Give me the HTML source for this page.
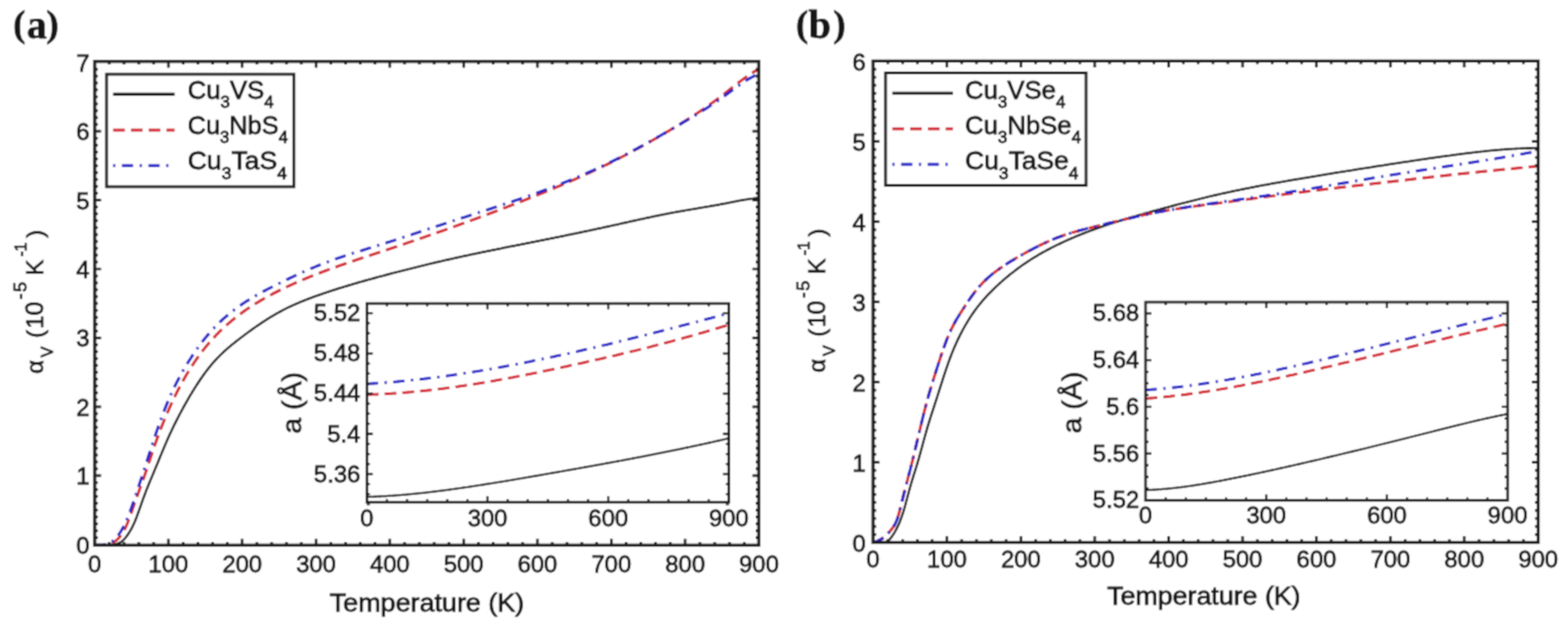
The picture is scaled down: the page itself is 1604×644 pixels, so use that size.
<!DOCTYPE html>
<html><head><meta charset="utf-8"><title>Volumetric thermal expansion coefficient vs temperature</title>
<style>
html,body{margin:0;padding:0;background:#fff;}
body{width:1604px;height:644px;overflow:hidden;}
svg{display:block;}
text{font-family:'Liberation Sans', Arial, Helvetica, sans-serif;fill:#161616;stroke:#161616;stroke-width:0.8px;}
</style></head>
<body>
<svg width="1604" height="644" viewBox="0 0 1604 644">
<defs><filter id="bl" x="0" y="0" width="1604" height="644" filterUnits="userSpaceOnUse"><feConvolveMatrix order="3" kernelMatrix="0.13 0.36 0.13 0.36 1.0 0.36 0.13 0.36 0.13" divisor="2.960" edgeMode="duplicate"/></filter><clipPath id="cA"><rect x="96.9" y="62.8" width="679.30" height="494.50"/></clipPath><clipPath id="cB"><rect x="893.1" y="62.4" width="680.40" height="492.10"/></clipPath><clipPath id="cIA"><rect x="375.3" y="310.2" width="370.30" height="203.10"/></clipPath><clipPath id="cIB"><rect x="1171.9" y="308.9" width="370.30" height="202.50"/></clipPath></defs>
<g filter="url(#bl)">
<rect width="1604" height="644" fill="#fff"/>
<path d="M96.9,557.3 L97.9,557.2 L98.9,557.2 L99.9,557.1 L100.9,557.1 L101.9,557.1 L102.9,557.1 L103.9,557.2 L104.9,557.2 L105.9,557.2 L106.9,557.2 L107.9,557.2 L108.9,557.2 L109.9,557.1 L110.9,557.1 L111.9,557.0 L112.9,556.9 L113.9,556.8 L114.9,556.7 L115.9,556.6 L116.9,556.5 L117.9,556.3 L118.9,556.1 L119.9,555.8 L120.9,555.5 L121.9,555.1 L122.9,554.6 L123.9,553.9 L124.9,553.2 L125.9,552.3 L126.9,551.3 L127.9,550.2 L128.9,549.0 L129.9,547.7 L130.9,546.3 L131.9,544.7 L132.9,543.1 L133.9,541.4 L134.9,539.6 L135.9,537.6 L136.9,535.4 L137.9,533.2 L138.9,530.7 L139.9,528.2 L140.9,525.5 L141.9,522.7 L142.9,519.9 L143.9,517.1 L144.9,514.2 L145.9,511.4 L146.9,508.7 L147.9,506.0 L148.9,503.3 L149.9,500.7 L150.9,498.2 L151.9,495.7 L152.9,493.3 L153.9,490.9 L154.9,488.5 L155.9,486.1 L156.9,483.7 L157.9,481.3 L158.9,478.9 L159.9,476.5 L160.9,474.1 L161.9,471.7 L162.9,469.3 L163.9,466.8 L164.9,464.4 L165.9,462.0 L166.9,459.6 L167.9,457.3 L168.9,454.9 L169.9,452.6 L170.9,450.3 L171.9,448.0 L172.9,445.8 L173.9,443.6 L174.9,441.4 L175.9,439.3 L176.9,437.2 L177.9,435.1 L178.9,433.1 L179.9,431.1 L180.9,429.1 L181.9,427.2 L182.9,425.2 L183.9,423.3 L184.9,421.5 L185.9,419.6 L186.9,417.8 L187.9,415.9 L188.9,414.1 L189.9,412.4 L190.9,410.6 L191.9,408.9 L192.9,407.1 L193.9,405.4 L194.9,403.7 L195.9,402.1 L196.9,400.4 L197.9,398.8 L198.9,397.2 L199.9,395.6 L200.9,394.0 L201.9,392.5 L202.9,391.0 L203.9,389.5 L204.9,388.0 L205.9,386.5 L206.9,385.1 L207.9,383.7 L208.9,382.3 L209.9,380.9 L210.9,379.6 L211.9,378.3 L212.9,377.0 L213.9,375.7 L214.9,374.5 L215.9,373.3 L216.9,372.1 L217.9,370.9 L218.9,369.8 L219.9,368.7 L220.9,367.6 L221.9,366.5 L222.9,365.5 L223.9,364.5 L224.9,363.5 L225.9,362.5 L226.9,361.5 L227.9,360.6 L228.9,359.6 L229.9,358.7 L230.9,357.8 L231.9,356.9 L232.9,356.1 L233.9,355.2 L234.9,354.4 L235.9,353.5 L236.9,352.7 L237.9,351.9 L238.9,351.1 L239.9,350.3 L240.9,349.5 L241.9,348.7 L242.9,347.9 L243.9,347.2 L244.9,346.4 L245.9,345.6 L246.9,344.9 L247.9,344.1 L248.9,343.4 L249.9,342.6 L250.9,341.9 L251.9,341.1 L252.9,340.4 L253.9,339.6 L254.9,338.9 L255.9,338.2 L256.9,337.5 L257.9,336.7 L258.9,336.0 L259.9,335.3 L260.9,334.6 L261.9,333.9 L262.9,333.2 L263.9,332.5 L264.9,331.9 L265.9,331.2 L266.9,330.5 L267.9,329.8 L268.9,329.2 L269.9,328.5 L270.9,327.9 L271.9,327.2 L272.9,326.6 L273.9,326.0 L274.9,325.3 L275.9,324.7 L276.9,324.1 L277.9,323.5 L278.9,322.9 L279.9,322.3 L280.9,321.7 L281.9,321.2 L282.9,320.6 L283.9,320.0 L284.9,319.5 L285.9,318.9 L286.9,318.4 L287.9,317.9 L288.9,317.3 L289.9,316.8 L290.9,316.3 L291.9,315.8 L292.9,315.3 L293.9,314.8 L294.9,314.3 L295.9,313.8 L296.9,313.3 L297.9,312.9 L298.9,312.4 L299.9,312.0 L300.9,311.5 L301.9,311.1 L302.9,310.6 L303.9,310.2 L304.9,309.8 L305.9,309.3 L306.9,308.9 L307.9,308.5 L308.9,308.1 L309.9,307.7 L310.9,307.3 L311.9,306.9 L312.9,306.5 L313.9,306.1 L314.9,305.7 L315.9,305.3 L316.9,304.9 L317.9,304.6 L318.9,304.2 L319.9,303.8 L320.9,303.4 L321.9,303.1 L322.9,302.7 L323.9,302.4 L324.9,302.0 L325.9,301.7 L326.9,301.3 L327.9,301.0 L328.9,300.6 L329.9,300.3 L330.9,299.9 L331.9,299.6 L332.9,299.3 L333.9,298.9 L334.9,298.6 L335.9,298.3 L336.9,297.9 L337.9,297.6 L338.9,297.3 L339.9,296.9 L340.9,296.6 L341.9,296.3 L342.9,296.0 L343.9,295.7 L344.9,295.3 L345.9,295.0 L346.9,294.7 L347.9,294.4 L348.9,294.1 L349.9,293.8 L350.9,293.5 L351.9,293.2 L352.9,292.9 L353.9,292.6 L354.9,292.3 L355.9,292.0 L356.9,291.7 L357.9,291.4 L358.9,291.1 L359.9,290.8 L360.9,290.5 L361.9,290.2 L362.9,289.9 L363.9,289.6 L364.9,289.3 L365.9,289.0 L366.9,288.7 L367.9,288.4 L368.9,288.2 L369.9,287.9 L370.9,287.6 L371.9,287.3 L372.9,287.0 L373.9,286.7 L374.9,286.5 L375.9,286.2 L376.9,285.9 L377.9,285.6 L378.9,285.4 L379.9,285.1 L380.9,284.8 L381.9,284.5 L382.9,284.3 L383.9,284.0 L384.9,283.7 L385.9,283.4 L386.9,283.2 L387.9,282.9 L388.9,282.6 L389.9,282.4 L390.9,282.1 L391.9,281.8 L392.9,281.6 L393.9,281.3 L394.9,281.0 L395.9,280.8 L396.9,280.5 L397.9,280.2 L398.9,280.0 L399.9,279.7 L400.9,279.4 L401.9,279.2 L402.9,278.9 L403.9,278.7 L404.9,278.4 L405.9,278.1 L406.9,277.9 L407.9,277.6 L408.9,277.4 L409.9,277.1 L410.9,276.9 L411.9,276.6 L412.9,276.3 L413.9,276.1 L414.9,275.8 L415.9,275.6 L416.9,275.3 L417.9,275.1 L418.9,274.8 L419.9,274.6 L420.9,274.3 L421.9,274.1 L422.9,273.8 L423.9,273.6 L424.9,273.3 L425.9,273.1 L426.9,272.8 L427.9,272.6 L428.9,272.3 L429.9,272.1 L430.9,271.8 L431.9,271.6 L432.9,271.4 L433.9,271.1 L434.9,270.9 L435.9,270.6 L436.9,270.4 L437.9,270.1 L438.9,269.9 L439.9,269.7 L440.9,269.4 L441.9,269.2 L442.9,269.0 L443.9,268.7 L444.9,268.5 L445.9,268.2 L446.9,268.0 L447.9,267.8 L448.9,267.5 L449.9,267.3 L450.9,267.1 L451.9,266.8 L452.9,266.6 L453.9,266.4 L454.9,266.2 L455.9,265.9 L456.9,265.7 L457.9,265.5 L458.9,265.3 L459.9,265.0 L460.9,264.8 L461.9,264.6 L462.9,264.4 L463.9,264.1 L464.9,263.9 L465.9,263.7 L466.9,263.5 L467.9,263.2 L468.9,263.0 L469.9,262.8 L470.9,262.6 L471.9,262.4 L472.9,262.2 L473.9,261.9 L474.9,261.7 L475.9,261.5 L476.9,261.3 L477.9,261.1 L478.9,260.9 L479.9,260.7 L480.9,260.4 L481.9,260.2 L482.9,260.0 L483.9,259.8 L484.9,259.6 L485.9,259.4 L486.9,259.2 L487.9,259.0 L488.9,258.8 L489.9,258.5 L490.9,258.3 L491.9,258.1 L492.9,257.9 L493.9,257.7 L494.9,257.5 L495.9,257.3 L496.9,257.1 L497.9,256.9 L498.9,256.7 L499.9,256.5 L500.9,256.3 L501.9,256.1 L502.9,255.9 L503.9,255.7 L504.9,255.5 L505.9,255.3 L506.9,255.1 L507.9,254.9 L508.9,254.7 L509.9,254.5 L510.9,254.3 L511.9,254.1 L512.9,253.9 L513.9,253.6 L514.9,253.4 L515.9,253.2 L516.9,253.0 L517.9,252.8 L518.9,252.6 L519.9,252.4 L520.9,252.2 L521.9,252.0 L522.9,251.9 L523.9,251.7 L524.9,251.5 L525.9,251.3 L526.9,251.1 L527.9,250.9 L528.9,250.7 L529.9,250.5 L530.9,250.3 L531.9,250.1 L532.9,249.9 L533.9,249.7 L534.9,249.5 L535.9,249.3 L536.9,249.1 L537.9,248.9 L538.9,248.7 L539.9,248.5 L540.9,248.3 L541.9,248.1 L542.9,247.9 L543.9,247.7 L544.9,247.5 L545.9,247.3 L546.9,247.1 L547.9,246.9 L548.9,246.7 L549.9,246.5 L550.9,246.3 L551.9,246.1 L552.9,245.9 L553.9,245.7 L554.9,245.5 L555.9,245.3 L556.9,245.1 L557.9,244.9 L558.9,244.7 L559.9,244.5 L560.9,244.3 L561.9,244.1 L562.9,243.9 L563.9,243.7 L564.9,243.5 L565.9,243.3 L566.9,243.1 L567.9,242.9 L568.9,242.7 L569.9,242.5 L570.9,242.3 L571.9,242.1 L572.9,241.9 L573.9,241.7 L574.9,241.5 L575.9,241.3 L576.9,241.1 L577.9,240.8 L578.9,240.6 L579.9,240.4 L580.9,240.2 L581.9,240.0 L582.9,239.8 L583.9,239.6 L584.9,239.4 L585.9,239.2 L586.9,239.0 L587.9,238.8 L588.9,238.6 L589.9,238.4 L590.9,238.2 L591.9,238.0 L592.9,237.8 L593.9,237.5 L594.9,237.3 L595.9,237.1 L596.9,236.9 L597.9,236.7 L598.9,236.5 L599.9,236.3 L600.9,236.1 L601.9,235.9 L602.9,235.7 L603.9,235.4 L604.9,235.2 L605.9,235.0 L606.9,234.8 L607.9,234.6 L608.9,234.4 L609.9,234.2 L610.9,233.9 L611.9,233.7 L612.9,233.5 L613.9,233.3 L614.9,233.1 L615.9,232.9 L616.9,232.6 L617.9,232.4 L618.9,232.2 L619.9,232.0 L620.9,231.8 L621.9,231.5 L622.9,231.3 L623.9,231.1 L624.9,230.9 L625.9,230.7 L626.9,230.4 L627.9,230.2 L628.9,230.0 L629.9,229.8 L630.9,229.6 L631.9,229.3 L632.9,229.1 L633.9,228.9 L634.9,228.7 L635.9,228.4 L636.9,228.2 L637.9,228.0 L638.9,227.8 L639.9,227.5 L640.9,227.3 L641.9,227.1 L642.9,226.9 L643.9,226.6 L644.9,226.4 L645.9,226.2 L646.9,226.0 L647.9,225.8 L648.9,225.5 L649.9,225.3 L650.9,225.1 L651.9,224.9 L652.9,224.7 L653.9,224.4 L654.9,224.2 L655.9,224.0 L656.9,223.8 L657.9,223.6 L658.9,223.3 L659.9,223.1 L660.9,222.9 L661.9,222.7 L662.9,222.5 L663.9,222.3 L664.9,222.1 L665.9,221.8 L666.9,221.6 L667.9,221.4 L668.9,221.2 L669.9,221.0 L670.9,220.8 L671.9,220.6 L672.9,220.4 L673.9,220.2 L674.9,220.0 L675.9,219.8 L676.9,219.6 L677.9,219.4 L678.9,219.2 L679.9,219.0 L680.9,218.8 L681.9,218.6 L682.9,218.4 L683.9,218.2 L684.9,218.0 L685.9,217.8 L686.9,217.6 L687.9,217.4 L688.9,217.2 L689.9,217.1 L690.9,216.9 L691.9,216.7 L692.9,216.5 L693.9,216.3 L694.9,216.2 L695.9,216.0 L696.9,215.8 L697.9,215.6 L698.9,215.5 L699.9,215.3 L700.9,215.1 L701.9,214.9 L702.9,214.8 L703.9,214.6 L704.9,214.4 L705.9,214.3 L706.9,214.1 L707.9,213.9 L708.9,213.8 L709.9,213.6 L710.9,213.4 L711.9,213.3 L712.9,213.1 L713.9,212.9 L714.9,212.7 L715.9,212.6 L716.9,212.4 L717.9,212.2 L718.9,212.1 L719.9,211.9 L720.9,211.7 L721.9,211.6 L722.9,211.4 L723.9,211.2 L724.9,211.1 L725.9,210.9 L726.9,210.7 L727.9,210.5 L728.9,210.4 L729.9,210.2 L730.9,210.0 L731.9,209.8 L732.9,209.7 L733.9,209.5 L734.9,209.3 L735.9,209.1 L736.9,208.9 L737.9,208.7 L738.9,208.5 L739.9,208.3 L740.9,208.2 L741.9,208.0 L742.9,207.8 L743.9,207.6 L744.9,207.4 L745.9,207.2 L746.9,207.0 L747.9,206.8 L748.9,206.6 L749.9,206.4 L750.9,206.2 L751.9,206.0 L752.9,205.8 L753.9,205.6 L754.9,205.4 L755.9,205.2 L756.9,205.0 L757.9,204.9 L758.9,204.7 L759.9,204.5 L760.9,204.3 L761.9,204.2 L762.9,204.0 L763.9,203.8 L764.9,203.7 L765.9,203.5 L766.9,203.4 L767.9,203.2 L768.9,203.1 L769.9,203.0 L770.9,202.8 L771.9,202.7 L772.9,202.6 L773.9,202.5 L774.9,202.4 L775.9,202.3 L776.2,202.3" fill="none" stroke="#121212" stroke-width="2.35" stroke-linejoin="round" clip-path="url(#cA)"/>
<path d="M96.9,557.3 L97.9,557.3 L98.9,557.2 L99.9,557.2 L100.9,557.2 L101.9,557.2 L102.9,557.2 L103.9,557.2 L104.9,557.2 L105.9,557.1 L106.9,557.1 L107.9,557.0 L108.9,556.8 L109.9,556.6 L110.9,556.4 L111.9,556.1 L112.9,555.8 L113.9,555.4 L114.9,554.9 L115.9,554.4 L116.9,553.8 L117.9,553.1 L118.9,552.4 L119.9,551.5 L120.9,550.5 L121.9,549.4 L122.9,548.3 L123.9,546.9 L124.9,545.5 L125.9,543.9 L126.9,542.2 L127.9,540.3 L128.9,538.2 L129.9,536.0 L130.9,533.5 L131.9,530.9 L132.9,528.2 L133.9,525.4 L134.9,522.5 L135.9,519.6 L136.9,516.7 L137.9,513.8 L138.9,510.9 L139.9,508.1 L140.9,505.4 L141.9,502.7 L142.9,500.0 L143.9,497.3 L144.9,494.5 L145.9,491.8 L146.9,489.0 L147.9,486.1 L148.9,483.2 L149.9,480.3 L150.9,477.3 L151.9,474.3 L152.9,471.3 L153.9,468.2 L154.9,465.2 L155.9,462.2 L156.9,459.3 L157.9,456.4 L158.9,453.5 L159.9,450.7 L160.9,447.9 L161.9,445.2 L162.9,442.5 L163.9,439.9 L164.9,437.3 L165.9,434.7 L166.9,432.2 L167.9,429.8 L168.9,427.4 L169.9,425.0 L170.9,422.7 L171.9,420.3 L172.9,418.1 L173.9,415.8 L174.9,413.6 L175.9,411.5 L176.9,409.4 L177.9,407.3 L178.9,405.2 L179.9,403.2 L180.9,401.2 L181.9,399.2 L182.9,397.3 L183.9,395.4 L184.9,393.5 L185.9,391.6 L186.9,389.8 L187.9,388.0 L188.9,386.3 L189.9,384.5 L190.9,382.8 L191.9,381.2 L192.9,379.5 L193.9,377.9 L194.9,376.3 L195.9,374.8 L196.9,373.2 L197.9,371.7 L198.9,370.2 L199.9,368.7 L200.9,367.3 L201.9,365.9 L202.9,364.5 L203.9,363.1 L204.9,361.8 L205.9,360.4 L206.9,359.1 L207.9,357.8 L208.9,356.6 L209.9,355.3 L210.9,354.1 L211.9,352.9 L212.9,351.7 L213.9,350.5 L214.9,349.4 L215.9,348.3 L216.9,347.1 L217.9,346.0 L218.9,345.0 L219.9,343.9 L220.9,342.8 L221.9,341.8 L222.9,340.8 L223.9,339.8 L224.9,338.8 L225.9,337.8 L226.9,336.8 L227.9,335.9 L228.9,335.0 L229.9,334.0 L230.9,333.1 L231.9,332.2 L232.9,331.4 L233.9,330.5 L234.9,329.6 L235.9,328.8 L236.9,327.9 L237.9,327.1 L238.9,326.3 L239.9,325.5 L240.9,324.7 L241.9,323.9 L242.9,323.2 L243.9,322.4 L244.9,321.6 L245.9,320.9 L246.9,320.2 L247.9,319.4 L248.9,318.7 L249.9,318.0 L250.9,317.3 L251.9,316.6 L252.9,315.9 L253.9,315.2 L254.9,314.6 L255.9,313.9 L256.9,313.3 L257.9,312.6 L258.9,312.0 L259.9,311.3 L260.9,310.7 L261.9,310.1 L262.9,309.5 L263.9,308.9 L264.9,308.3 L265.9,307.7 L266.9,307.1 L267.9,306.5 L268.9,305.9 L269.9,305.3 L270.9,304.8 L271.9,304.2 L272.9,303.7 L273.9,303.1 L274.9,302.6 L275.9,302.0 L276.9,301.5 L277.9,301.0 L278.9,300.4 L279.9,299.9 L280.9,299.4 L281.9,298.9 L282.9,298.4 L283.9,297.9 L284.9,297.4 L285.9,296.9 L286.9,296.4 L287.9,295.9 L288.9,295.4 L289.9,294.9 L290.9,294.4 L291.9,293.9 L292.9,293.5 L293.9,293.0 L294.9,292.5 L295.9,292.1 L296.9,291.6 L297.9,291.2 L298.9,290.7 L299.9,290.2 L300.9,289.8 L301.9,289.4 L302.9,288.9 L303.9,288.5 L304.9,288.0 L305.9,287.6 L306.9,287.2 L307.9,286.7 L308.9,286.3 L309.9,285.9 L310.9,285.5 L311.9,285.1 L312.9,284.6 L313.9,284.2 L314.9,283.8 L315.9,283.4 L316.9,283.0 L317.9,282.6 L318.9,282.2 L319.9,281.8 L320.9,281.4 L321.9,281.0 L322.9,280.6 L323.9,280.2 L324.9,279.8 L325.9,279.5 L326.9,279.1 L327.9,278.7 L328.9,278.3 L329.9,277.9 L330.9,277.6 L331.9,277.2 L332.9,276.8 L333.9,276.4 L334.9,276.1 L335.9,275.7 L336.9,275.3 L337.9,275.0 L338.9,274.6 L339.9,274.2 L340.9,273.9 L341.9,273.5 L342.9,273.2 L343.9,272.8 L344.9,272.5 L345.9,272.1 L346.9,271.7 L347.9,271.4 L348.9,271.0 L349.9,270.7 L350.9,270.3 L351.9,270.0 L352.9,269.7 L353.9,269.3 L354.9,269.0 L355.9,268.6 L356.9,268.3 L357.9,267.9 L358.9,267.6 L359.9,267.3 L360.9,266.9 L361.9,266.6 L362.9,266.3 L363.9,265.9 L364.9,265.6 L365.9,265.2 L366.9,264.9 L367.9,264.6 L368.9,264.2 L369.9,263.9 L370.9,263.6 L371.9,263.2 L372.9,262.9 L373.9,262.6 L374.9,262.3 L375.9,261.9 L376.9,261.6 L377.9,261.3 L378.9,260.9 L379.9,260.6 L380.9,260.3 L381.9,259.9 L382.9,259.6 L383.9,259.3 L384.9,258.9 L385.9,258.6 L386.9,258.3 L387.9,258.0 L388.9,257.6 L389.9,257.3 L390.9,257.0 L391.9,256.6 L392.9,256.3 L393.9,256.0 L394.9,255.6 L395.9,255.3 L396.9,255.0 L397.9,254.6 L398.9,254.3 L399.9,254.0 L400.9,253.6 L401.9,253.3 L402.9,253.0 L403.9,252.6 L404.9,252.3 L405.9,252.0 L406.9,251.6 L407.9,251.3 L408.9,250.9 L409.9,250.6 L410.9,250.3 L411.9,249.9 L412.9,249.6 L413.9,249.3 L414.9,248.9 L415.9,248.6 L416.9,248.2 L417.9,247.9 L418.9,247.6 L419.9,247.2 L420.9,246.9 L421.9,246.5 L422.9,246.2 L423.9,245.8 L424.9,245.5 L425.9,245.2 L426.9,244.8 L427.9,244.5 L428.9,244.1 L429.9,243.8 L430.9,243.4 L431.9,243.1 L432.9,242.8 L433.9,242.4 L434.9,242.1 L435.9,241.7 L436.9,241.4 L437.9,241.0 L438.9,240.7 L439.9,240.3 L440.9,240.0 L441.9,239.6 L442.9,239.3 L443.9,238.9 L444.9,238.6 L445.9,238.2 L446.9,237.9 L447.9,237.5 L448.9,237.2 L449.9,236.8 L450.9,236.5 L451.9,236.1 L452.9,235.8 L453.9,235.4 L454.9,235.1 L455.9,234.7 L456.9,234.4 L457.9,234.0 L458.9,233.6 L459.9,233.3 L460.9,232.9 L461.9,232.6 L462.9,232.2 L463.9,231.9 L464.9,231.5 L465.9,231.1 L466.9,230.8 L467.9,230.4 L468.9,230.1 L469.9,229.7 L470.9,229.3 L471.9,229.0 L472.9,228.6 L473.9,228.3 L474.9,227.9 L475.9,227.5 L476.9,227.2 L477.9,226.8 L478.9,226.4 L479.9,226.1 L480.9,225.7 L481.9,225.4 L482.9,225.0 L483.9,224.6 L484.9,224.3 L485.9,223.9 L486.9,223.5 L487.9,223.2 L488.9,222.8 L489.9,222.4 L490.9,222.0 L491.9,221.7 L492.9,221.3 L493.9,220.9 L494.9,220.6 L495.9,220.2 L496.9,219.8 L497.9,219.4 L498.9,219.1 L499.9,218.7 L500.9,218.3 L501.9,217.9 L502.9,217.6 L503.9,217.2 L504.9,216.8 L505.9,216.4 L506.9,216.1 L507.9,215.7 L508.9,215.3 L509.9,214.9 L510.9,214.5 L511.9,214.2 L512.9,213.8 L513.9,213.4 L514.9,213.0 L515.9,212.6 L516.9,212.3 L517.9,211.9 L518.9,211.5 L519.9,211.1 L520.9,210.7 L521.9,210.3 L522.9,209.9 L523.9,209.6 L524.9,209.2 L525.9,208.8 L526.9,208.4 L527.9,208.0 L528.9,207.6 L529.9,207.2 L530.9,206.8 L531.9,206.4 L532.9,206.1 L533.9,205.7 L534.9,205.3 L535.9,204.9 L536.9,204.5 L537.9,204.1 L538.9,203.7 L539.9,203.3 L540.9,202.9 L541.9,202.5 L542.9,202.1 L543.9,201.7 L544.9,201.3 L545.9,200.9 L546.9,200.5 L547.9,200.1 L548.9,199.7 L549.9,199.3 L550.9,198.9 L551.9,198.5 L552.9,198.1 L553.9,197.7 L554.9,197.3 L555.9,196.9 L556.9,196.5 L557.9,196.1 L558.9,195.7 L559.9,195.2 L560.9,194.8 L561.9,194.4 L562.9,194.0 L563.9,193.6 L564.9,193.2 L565.9,192.8 L566.9,192.4 L567.9,191.9 L568.9,191.5 L569.9,191.1 L570.9,190.7 L571.9,190.3 L572.9,189.8 L573.9,189.4 L574.9,189.0 L575.9,188.6 L576.9,188.1 L577.9,187.7 L578.9,187.3 L579.9,186.8 L580.9,186.4 L581.9,186.0 L582.9,185.6 L583.9,185.1 L584.9,184.7 L585.9,184.2 L586.9,183.8 L587.9,183.4 L588.9,182.9 L589.9,182.5 L590.9,182.0 L591.9,181.6 L592.9,181.2 L593.9,180.7 L594.9,180.3 L595.9,179.8 L596.9,179.4 L597.9,178.9 L598.9,178.4 L599.9,178.0 L600.9,177.5 L601.9,177.1 L602.9,176.6 L603.9,176.2 L604.9,175.7 L605.9,175.2 L606.9,174.8 L607.9,174.3 L608.9,173.8 L609.9,173.4 L610.9,172.9 L611.9,172.4 L612.9,171.9 L613.9,171.5 L614.9,171.0 L615.9,170.5 L616.9,170.0 L617.9,169.5 L618.9,169.0 L619.9,168.6 L620.9,168.1 L621.9,167.6 L622.9,167.1 L623.9,166.6 L624.9,166.1 L625.9,165.6 L626.9,165.1 L627.9,164.6 L628.9,164.1 L629.9,163.6 L630.9,163.1 L631.9,162.6 L632.9,162.1 L633.9,161.6 L634.9,161.0 L635.9,160.5 L636.9,160.0 L637.9,159.5 L638.9,159.0 L639.9,158.5 L640.9,157.9 L641.9,157.4 L642.9,156.9 L643.9,156.4 L644.9,155.8 L645.9,155.3 L646.9,154.8 L647.9,154.2 L648.9,153.7 L649.9,153.2 L650.9,152.6 L651.9,152.1 L652.9,151.5 L653.9,151.0 L654.9,150.4 L655.9,149.9 L656.9,149.3 L657.9,148.8 L658.9,148.2 L659.9,147.7 L660.9,147.1 L661.9,146.6 L662.9,146.0 L663.9,145.4 L664.9,144.9 L665.9,144.3 L666.9,143.8 L667.9,143.2 L668.9,142.6 L669.9,142.0 L670.9,141.5 L671.9,140.9 L672.9,140.3 L673.9,139.8 L674.9,139.2 L675.9,138.6 L676.9,138.0 L677.9,137.4 L678.9,136.8 L679.9,136.3 L680.9,135.7 L681.9,135.1 L682.9,134.5 L683.9,133.9 L684.9,133.3 L685.9,132.7 L686.9,132.1 L687.9,131.5 L688.9,130.9 L689.9,130.3 L690.9,129.7 L691.9,129.1 L692.9,128.5 L693.9,127.9 L694.9,127.3 L695.9,126.7 L696.9,126.0 L697.9,125.4 L698.9,124.8 L699.9,124.2 L700.9,123.6 L701.9,122.9 L702.9,122.3 L703.9,121.7 L704.9,121.0 L705.9,120.4 L706.9,119.8 L707.9,119.1 L708.9,118.5 L709.9,117.8 L710.9,117.2 L711.9,116.5 L712.9,115.9 L713.9,115.2 L714.9,114.6 L715.9,113.9 L716.9,113.2 L717.9,112.5 L718.9,111.9 L719.9,111.2 L720.9,110.5 L721.9,109.8 L722.9,109.1 L723.9,108.4 L724.9,107.7 L725.9,107.0 L726.9,106.3 L727.9,105.6 L728.9,104.9 L729.9,104.2 L730.9,103.4 L731.9,102.7 L732.9,102.0 L733.9,101.2 L734.9,100.5 L735.9,99.8 L736.9,99.0 L737.9,98.2 L738.9,97.5 L739.9,96.7 L740.9,95.9 L741.9,95.2 L742.9,94.4 L743.9,93.6 L744.9,92.8 L745.9,92.0 L746.9,91.2 L747.9,90.4 L748.9,89.6 L749.9,88.9 L750.9,88.1 L751.9,87.3 L752.9,86.5 L753.9,85.7 L754.9,84.9 L755.9,84.2 L756.9,83.4 L757.9,82.6 L758.9,81.9 L759.9,81.2 L760.9,80.4 L761.9,79.7 L762.9,79.0 L763.9,78.3 L764.9,77.6 L765.9,76.9 L766.9,76.2 L767.9,75.5 L768.9,74.9 L769.9,74.3 L770.9,73.6 L771.9,73.0 L772.9,72.4 L773.9,71.9 L774.9,71.3 L775.9,70.8 L776.2,70.6" fill="none" stroke="#d42630" stroke-width="2.9" stroke-dasharray="12 6.2" stroke-linejoin="round" clip-path="url(#cA)"/>
<path d="M96.9,557.3 L97.9,557.3 L98.9,557.3 L99.9,557.3 L100.9,557.3 L101.9,557.2 L102.9,557.2 L103.9,557.1 L104.9,557.0 L105.9,556.8 L106.9,556.7 L107.9,556.5 L108.9,556.2 L109.9,556.0 L110.9,555.6 L111.9,555.2 L112.9,554.7 L113.9,554.2 L114.9,553.5 L115.9,552.7 L116.9,551.8 L117.9,550.8 L118.9,549.7 L119.9,548.5 L120.9,547.2 L121.9,545.8 L122.9,544.3 L123.9,542.7 L124.9,541.0 L125.9,539.2 L126.9,537.3 L127.9,535.3 L128.9,533.1 L129.9,530.9 L130.9,528.4 L131.9,525.9 L132.9,523.2 L133.9,520.5 L134.9,517.7 L135.9,514.8 L136.9,511.9 L137.9,508.9 L138.9,505.9 L139.9,503.0 L140.9,500.0 L141.9,497.0 L142.9,494.0 L143.9,490.9 L144.9,487.9 L145.9,484.8 L146.9,481.8 L147.9,478.7 L148.9,475.6 L149.9,472.5 L150.9,469.4 L151.9,466.3 L152.9,463.2 L153.9,460.1 L154.9,457.0 L155.9,453.9 L156.9,450.9 L157.9,447.9 L158.9,444.9 L159.9,442.0 L160.9,439.1 L161.9,436.2 L162.9,433.4 L163.9,430.6 L164.9,427.9 L165.9,425.2 L166.9,422.5 L167.9,419.9 L168.9,417.4 L169.9,414.9 L170.9,412.4 L171.9,410.0 L172.9,407.7 L173.9,405.4 L174.9,403.1 L175.9,401.0 L176.9,398.8 L177.9,396.7 L178.9,394.7 L179.9,392.7 L180.9,390.7 L181.9,388.8 L182.9,386.9 L183.9,385.0 L184.9,383.2 L185.9,381.4 L186.9,379.6 L187.9,377.9 L188.9,376.2 L189.9,374.5 L190.9,372.9 L191.9,371.2 L192.9,369.6 L193.9,368.0 L194.9,366.5 L195.9,364.9 L196.9,363.4 L197.9,361.9 L198.9,360.4 L199.9,359.0 L200.9,357.5 L201.9,356.1 L202.9,354.7 L203.9,353.4 L204.9,352.0 L205.9,350.7 L206.9,349.4 L207.9,348.1 L208.9,346.8 L209.9,345.6 L210.9,344.4 L211.9,343.2 L212.9,342.0 L213.9,340.8 L214.9,339.7 L215.9,338.5 L216.9,337.4 L217.9,336.3 L218.9,335.3 L219.9,334.2 L220.9,333.2 L221.9,332.2 L222.9,331.2 L223.9,330.2 L224.9,329.2 L225.9,328.3 L226.9,327.4 L227.9,326.4 L228.9,325.5 L229.9,324.6 L230.9,323.8 L231.9,322.9 L232.9,322.1 L233.9,321.2 L234.9,320.4 L235.9,319.6 L236.9,318.8 L237.9,318.0 L238.9,317.3 L239.9,316.5 L240.9,315.8 L241.9,315.0 L242.9,314.3 L243.9,313.6 L244.9,312.9 L245.9,312.2 L246.9,311.5 L247.9,310.8 L248.9,310.1 L249.9,309.4 L250.9,308.8 L251.9,308.1 L252.9,307.5 L253.9,306.9 L254.9,306.2 L255.9,305.6 L256.9,305.0 L257.9,304.4 L258.9,303.8 L259.9,303.2 L260.9,302.6 L261.9,302.1 L262.9,301.5 L263.9,300.9 L264.9,300.4 L265.9,299.8 L266.9,299.2 L267.9,298.7 L268.9,298.2 L269.9,297.6 L270.9,297.1 L271.9,296.6 L272.9,296.0 L273.9,295.5 L274.9,295.0 L275.9,294.5 L276.9,294.0 L277.9,293.5 L278.9,292.9 L279.9,292.4 L280.9,291.9 L281.9,291.4 L282.9,290.9 L283.9,290.4 L284.9,290.0 L285.9,289.5 L286.9,289.0 L287.9,288.5 L288.9,288.0 L289.9,287.5 L290.9,287.0 L291.9,286.5 L292.9,286.0 L293.9,285.6 L294.9,285.1 L295.9,284.6 L296.9,284.1 L297.9,283.7 L298.9,283.2 L299.9,282.7 L300.9,282.2 L301.9,281.8 L302.9,281.3 L303.9,280.9 L304.9,280.4 L305.9,279.9 L306.9,279.5 L307.9,279.0 L308.9,278.6 L309.9,278.1 L310.9,277.7 L311.9,277.2 L312.9,276.8 L313.9,276.4 L314.9,275.9 L315.9,275.5 L316.9,275.1 L317.9,274.6 L318.9,274.2 L319.9,273.8 L320.9,273.4 L321.9,273.0 L322.9,272.5 L323.9,272.1 L324.9,271.7 L325.9,271.3 L326.9,270.9 L327.9,270.5 L328.9,270.1 L329.9,269.7 L330.9,269.3 L331.9,269.0 L332.9,268.6 L333.9,268.2 L334.9,267.8 L335.9,267.5 L336.9,267.1 L337.9,266.7 L338.9,266.4 L339.9,266.0 L340.9,265.6 L341.9,265.3 L342.9,264.9 L343.9,264.6 L344.9,264.2 L345.9,263.9 L346.9,263.5 L347.9,263.2 L348.9,262.9 L349.9,262.5 L350.9,262.2 L351.9,261.9 L352.9,261.5 L353.9,261.2 L354.9,260.9 L355.9,260.5 L356.9,260.2 L357.9,259.9 L358.9,259.6 L359.9,259.3 L360.9,258.9 L361.9,258.6 L362.9,258.3 L363.9,258.0 L364.9,257.7 L365.9,257.4 L366.9,257.0 L367.9,256.7 L368.9,256.4 L369.9,256.1 L370.9,255.8 L371.9,255.5 L372.9,255.2 L373.9,254.9 L374.9,254.6 L375.9,254.2 L376.9,253.9 L377.9,253.6 L378.9,253.3 L379.9,253.0 L380.9,252.7 L381.9,252.4 L382.9,252.1 L383.9,251.8 L384.9,251.5 L385.9,251.2 L386.9,250.8 L387.9,250.5 L388.9,250.2 L389.9,249.9 L390.9,249.6 L391.9,249.3 L392.9,249.0 L393.9,248.6 L394.9,248.3 L395.9,248.0 L396.9,247.7 L397.9,247.4 L398.9,247.1 L399.9,246.7 L400.9,246.4 L401.9,246.1 L402.9,245.8 L403.9,245.4 L404.9,245.1 L405.9,244.8 L406.9,244.5 L407.9,244.1 L408.9,243.8 L409.9,243.5 L410.9,243.2 L411.9,242.8 L412.9,242.5 L413.9,242.2 L414.9,241.9 L415.9,241.5 L416.9,241.2 L417.9,240.9 L418.9,240.5 L419.9,240.2 L420.9,239.9 L421.9,239.6 L422.9,239.2 L423.9,238.9 L424.9,238.6 L425.9,238.2 L426.9,237.9 L427.9,237.6 L428.9,237.2 L429.9,236.9 L430.9,236.6 L431.9,236.2 L432.9,235.9 L433.9,235.6 L434.9,235.2 L435.9,234.9 L436.9,234.6 L437.9,234.2 L438.9,233.9 L439.9,233.6 L440.9,233.2 L441.9,232.9 L442.9,232.6 L443.9,232.2 L444.9,231.9 L445.9,231.6 L446.9,231.2 L447.9,230.9 L448.9,230.6 L449.9,230.3 L450.9,229.9 L451.9,229.6 L452.9,229.3 L453.9,228.9 L454.9,228.6 L455.9,228.3 L456.9,227.9 L457.9,227.6 L458.9,227.3 L459.9,227.0 L460.9,226.6 L461.9,226.3 L462.9,226.0 L463.9,225.7 L464.9,225.3 L465.9,225.0 L466.9,224.7 L467.9,224.3 L468.9,224.0 L469.9,223.7 L470.9,223.4 L471.9,223.1 L472.9,222.7 L473.9,222.4 L474.9,222.1 L475.9,221.8 L476.9,221.4 L477.9,221.1 L478.9,220.8 L479.9,220.5 L480.9,220.1 L481.9,219.8 L482.9,219.5 L483.9,219.2 L484.9,218.8 L485.9,218.5 L486.9,218.2 L487.9,217.9 L488.9,217.6 L489.9,217.2 L490.9,216.9 L491.9,216.6 L492.9,216.3 L493.9,215.9 L494.9,215.6 L495.9,215.3 L496.9,215.0 L497.9,214.6 L498.9,214.3 L499.9,214.0 L500.9,213.7 L501.9,213.3 L502.9,213.0 L503.9,212.7 L504.9,212.4 L505.9,212.0 L506.9,211.7 L507.9,211.4 L508.9,211.0 L509.9,210.7 L510.9,210.4 L511.9,210.1 L512.9,209.7 L513.9,209.4 L514.9,209.1 L515.9,208.7 L516.9,208.4 L517.9,208.1 L518.9,207.7 L519.9,207.4 L520.9,207.1 L521.9,206.7 L522.9,206.4 L523.9,206.1 L524.9,205.7 L525.9,205.4 L526.9,205.0 L527.9,204.7 L528.9,204.4 L529.9,204.0 L530.9,203.7 L531.9,203.3 L532.9,203.0 L533.9,202.6 L534.9,202.3 L535.9,201.9 L536.9,201.6 L537.9,201.2 L538.9,200.9 L539.9,200.5 L540.9,200.2 L541.9,199.8 L542.9,199.5 L543.9,199.1 L544.9,198.8 L545.9,198.4 L546.9,198.1 L547.9,197.7 L548.9,197.3 L549.9,197.0 L550.9,196.6 L551.9,196.3 L552.9,195.9 L553.9,195.5 L554.9,195.2 L555.9,194.8 L556.9,194.4 L557.9,194.0 L558.9,193.7 L559.9,193.3 L560.9,192.9 L561.9,192.5 L562.9,192.2 L563.9,191.8 L564.9,191.4 L565.9,191.0 L566.9,190.6 L567.9,190.3 L568.9,189.9 L569.9,189.5 L570.9,189.1 L571.9,188.7 L572.9,188.3 L573.9,187.9 L574.9,187.5 L575.9,187.1 L576.9,186.7 L577.9,186.3 L578.9,185.9 L579.9,185.5 L580.9,185.1 L581.9,184.7 L582.9,184.3 L583.9,183.9 L584.9,183.5 L585.9,183.1 L586.9,182.7 L587.9,182.2 L588.9,181.8 L589.9,181.4 L590.9,181.0 L591.9,180.6 L592.9,180.1 L593.9,179.7 L594.9,179.3 L595.9,178.9 L596.9,178.4 L597.9,178.0 L598.9,177.6 L599.9,177.1 L600.9,176.7 L601.9,176.2 L602.9,175.8 L603.9,175.4 L604.9,174.9 L605.9,174.5 L606.9,174.0 L607.9,173.6 L608.9,173.1 L609.9,172.6 L610.9,172.2 L611.9,171.7 L612.9,171.3 L613.9,170.8 L614.9,170.3 L615.9,169.9 L616.9,169.4 L617.9,168.9 L618.9,168.4 L619.9,168.0 L620.9,167.5 L621.9,167.0 L622.9,166.5 L623.9,166.0 L624.9,165.5 L625.9,165.1 L626.9,164.6 L627.9,164.1 L628.9,163.6 L629.9,163.1 L630.9,162.6 L631.9,162.1 L632.9,161.6 L633.9,161.1 L634.9,160.6 L635.9,160.0 L636.9,159.5 L637.9,159.0 L638.9,158.5 L639.9,158.0 L640.9,157.5 L641.9,156.9 L642.9,156.4 L643.9,155.9 L644.9,155.4 L645.9,154.9 L646.9,154.3 L647.9,153.8 L648.9,153.3 L649.9,152.7 L650.9,152.2 L651.9,151.7 L652.9,151.1 L653.9,150.6 L654.9,150.0 L655.9,149.5 L656.9,149.0 L657.9,148.4 L658.9,147.9 L659.9,147.3 L660.9,146.8 L661.9,146.2 L662.9,145.7 L663.9,145.1 L664.9,144.6 L665.9,144.0 L666.9,143.5 L667.9,142.9 L668.9,142.3 L669.9,141.8 L670.9,141.2 L671.9,140.7 L672.9,140.1 L673.9,139.5 L674.9,139.0 L675.9,138.4 L676.9,137.8 L677.9,137.3 L678.9,136.7 L679.9,136.1 L680.9,135.6 L681.9,135.0 L682.9,134.4 L683.9,133.9 L684.9,133.3 L685.9,132.7 L686.9,132.1 L687.9,131.6 L688.9,131.0 L689.9,130.4 L690.9,129.8 L691.9,129.3 L692.9,128.7 L693.9,128.1 L694.9,127.5 L695.9,126.9 L696.9,126.4 L697.9,125.8 L698.9,125.2 L699.9,124.6 L700.9,124.0 L701.9,123.4 L702.9,122.8 L703.9,122.2 L704.9,121.7 L705.9,121.1 L706.9,120.5 L707.9,119.9 L708.9,119.3 L709.9,118.6 L710.9,118.0 L711.9,117.4 L712.9,116.8 L713.9,116.2 L714.9,115.6 L715.9,115.0 L716.9,114.3 L717.9,113.7 L718.9,113.1 L719.9,112.4 L720.9,111.8 L721.9,111.2 L722.9,110.5 L723.9,109.9 L724.9,109.2 L725.9,108.6 L726.9,107.9 L727.9,107.2 L728.9,106.6 L729.9,105.9 L730.9,105.2 L731.9,104.6 L732.9,103.9 L733.9,103.2 L734.9,102.5 L735.9,101.8 L736.9,101.1 L737.9,100.4 L738.9,99.7 L739.9,98.9 L740.9,98.2 L741.9,97.5 L742.9,96.8 L743.9,96.0 L744.9,95.3 L745.9,94.6 L746.9,93.8 L747.9,93.1 L748.9,92.3 L749.9,91.6 L750.9,90.9 L751.9,90.1 L752.9,89.4 L753.9,88.7 L754.9,88.0 L755.9,87.3 L756.9,86.6 L757.9,85.9 L758.9,85.2 L759.9,84.5 L760.9,83.9 L761.9,83.2 L762.9,82.6 L763.9,81.9 L764.9,81.3 L765.9,80.7 L766.9,80.1 L767.9,79.6 L768.9,79.0 L769.9,78.5 L770.9,77.9 L771.9,77.4 L772.9,77.0 L773.9,76.5 L774.9,76.1 L775.9,75.6 L776.2,75.5" fill="none" stroke="#2424c8" stroke-width="2.9" stroke-dasharray="11.5 6.6 2.4 6.6" stroke-linejoin="round" clip-path="url(#cA)"/>
<path d="M893.1,554.4 L894.1,554.8 L895.1,554.9 L896.1,554.8 L897.1,554.6 L898.1,554.3 L899.1,554.0 L900.1,553.8 L901.1,553.8 L902.1,553.9 L903.1,554.0 L904.1,554.1 L905.1,554.1 L906.1,553.9 L907.1,553.5 L908.1,552.9 L909.1,552.2 L910.1,551.2 L911.1,550.1 L912.1,548.8 L913.1,547.4 L914.1,545.9 L915.1,544.3 L916.1,542.5 L917.1,540.6 L918.1,538.6 L919.1,536.5 L920.1,534.2 L921.1,531.7 L922.1,529.1 L923.1,526.2 L924.1,523.1 L925.1,519.8 L926.1,516.2 L927.1,512.5 L928.1,508.8 L929.1,505.0 L930.1,501.3 L931.1,497.7 L932.1,494.2 L933.1,490.9 L934.1,487.6 L935.1,484.4 L936.1,481.3 L937.1,478.0 L938.1,474.8 L939.1,471.4 L940.1,468.0 L941.1,464.4 L942.1,460.8 L943.1,457.2 L944.1,453.5 L945.1,449.8 L946.1,446.2 L947.1,442.6 L948.1,439.1 L949.1,435.7 L950.1,432.4 L951.1,429.2 L952.1,426.0 L953.1,422.9 L954.1,419.8 L955.1,416.8 L956.1,413.7 L957.1,410.7 L958.1,407.6 L959.1,404.5 L960.1,401.4 L961.1,398.2 L962.1,395.1 L963.1,391.9 L964.1,388.8 L965.1,385.7 L966.1,382.6 L967.1,379.6 L968.1,376.7 L969.1,373.8 L970.1,370.9 L971.1,368.2 L972.1,365.5 L973.1,362.9 L974.1,360.4 L975.1,357.9 L976.1,355.5 L977.1,353.2 L978.1,351.0 L979.1,348.8 L980.1,346.6 L981.1,344.6 L982.1,342.5 L983.1,340.6 L984.1,338.7 L985.1,336.8 L986.1,335.0 L987.1,333.2 L988.1,331.5 L989.1,329.8 L990.1,328.1 L991.1,326.5 L992.1,325.0 L993.1,323.4 L994.1,321.9 L995.1,320.5 L996.1,319.0 L997.1,317.6 L998.1,316.3 L999.1,314.9 L1000.1,313.6 L1001.1,312.4 L1002.1,311.1 L1003.1,309.9 L1004.1,308.7 L1005.1,307.5 L1006.1,306.3 L1007.1,305.2 L1008.1,304.1 L1009.1,303.0 L1010.1,301.9 L1011.1,300.8 L1012.1,299.8 L1013.1,298.8 L1014.1,297.8 L1015.1,296.8 L1016.1,295.8 L1017.1,294.8 L1018.1,293.9 L1019.1,292.9 L1020.1,292.0 L1021.1,291.1 L1022.1,290.2 L1023.1,289.2 L1024.1,288.4 L1025.1,287.5 L1026.1,286.6 L1027.1,285.7 L1028.1,284.9 L1029.1,284.0 L1030.1,283.2 L1031.1,282.3 L1032.1,281.5 L1033.1,280.7 L1034.1,279.9 L1035.1,279.1 L1036.1,278.3 L1037.1,277.6 L1038.1,276.8 L1039.1,276.0 L1040.1,275.3 L1041.1,274.5 L1042.1,273.8 L1043.1,273.1 L1044.1,272.3 L1045.1,271.6 L1046.1,270.9 L1047.1,270.2 L1048.1,269.5 L1049.1,268.9 L1050.1,268.2 L1051.1,267.5 L1052.1,266.9 L1053.1,266.2 L1054.1,265.6 L1055.1,264.9 L1056.1,264.3 L1057.1,263.7 L1058.1,263.1 L1059.1,262.5 L1060.1,261.9 L1061.1,261.3 L1062.1,260.7 L1063.1,260.1 L1064.1,259.5 L1065.1,258.9 L1066.1,258.4 L1067.1,257.8 L1068.1,257.3 L1069.1,256.7 L1070.1,256.2 L1071.1,255.6 L1072.1,255.1 L1073.1,254.6 L1074.1,254.1 L1075.1,253.5 L1076.1,253.0 L1077.1,252.5 L1078.1,252.0 L1079.1,251.5 L1080.1,251.0 L1081.1,250.5 L1082.1,250.0 L1083.1,249.6 L1084.1,249.1 L1085.1,248.6 L1086.1,248.1 L1087.1,247.7 L1088.1,247.2 L1089.1,246.7 L1090.1,246.3 L1091.1,245.8 L1092.1,245.4 L1093.1,244.9 L1094.1,244.5 L1095.1,244.1 L1096.1,243.6 L1097.1,243.2 L1098.1,242.8 L1099.1,242.3 L1100.1,241.9 L1101.1,241.5 L1102.1,241.1 L1103.1,240.7 L1104.1,240.3 L1105.1,239.9 L1106.1,239.5 L1107.1,239.1 L1108.1,238.7 L1109.1,238.3 L1110.1,237.9 L1111.1,237.5 L1112.1,237.1 L1113.1,236.8 L1114.1,236.4 L1115.1,236.0 L1116.1,235.6 L1117.1,235.3 L1118.1,234.9 L1119.1,234.5 L1120.1,234.2 L1121.1,233.8 L1122.1,233.5 L1123.1,233.1 L1124.1,232.8 L1125.1,232.4 L1126.1,232.1 L1127.1,231.7 L1128.1,231.4 L1129.1,231.0 L1130.1,230.7 L1131.1,230.4 L1132.1,230.0 L1133.1,229.7 L1134.1,229.4 L1135.1,229.0 L1136.1,228.7 L1137.1,228.4 L1138.1,228.1 L1139.1,227.7 L1140.1,227.4 L1141.1,227.1 L1142.1,226.8 L1143.1,226.5 L1144.1,226.2 L1145.1,225.8 L1146.1,225.5 L1147.1,225.2 L1148.1,224.9 L1149.1,224.6 L1150.1,224.3 L1151.1,224.0 L1152.1,223.7 L1153.1,223.4 L1154.1,223.1 L1155.1,222.8 L1156.1,222.5 L1157.1,222.2 L1158.1,221.9 L1159.1,221.6 L1160.1,221.3 L1161.1,221.1 L1162.1,220.8 L1163.1,220.5 L1164.1,220.2 L1165.1,219.9 L1166.1,219.6 L1167.1,219.3 L1168.1,219.1 L1169.1,218.8 L1170.1,218.5 L1171.1,218.2 L1172.1,217.9 L1173.1,217.6 L1174.1,217.4 L1175.1,217.1 L1176.1,216.8 L1177.1,216.5 L1178.1,216.3 L1179.1,216.0 L1180.1,215.7 L1181.1,215.4 L1182.1,215.2 L1183.1,214.9 L1184.1,214.6 L1185.1,214.3 L1186.1,214.1 L1187.1,213.8 L1188.1,213.5 L1189.1,213.2 L1190.1,213.0 L1191.1,212.7 L1192.1,212.4 L1193.1,212.1 L1194.1,211.9 L1195.1,211.6 L1196.1,211.3 L1197.1,211.1 L1198.1,210.8 L1199.1,210.5 L1200.1,210.3 L1201.1,210.0 L1202.1,209.7 L1203.1,209.5 L1204.1,209.2 L1205.1,208.9 L1206.1,208.7 L1207.1,208.4 L1208.1,208.2 L1209.1,207.9 L1210.1,207.6 L1211.1,207.4 L1212.1,207.1 L1213.1,206.9 L1214.1,206.6 L1215.1,206.3 L1216.1,206.1 L1217.1,205.8 L1218.1,205.6 L1219.1,205.3 L1220.1,205.1 L1221.1,204.8 L1222.1,204.6 L1223.1,204.3 L1224.1,204.1 L1225.1,203.8 L1226.1,203.6 L1227.1,203.3 L1228.1,203.1 L1229.1,202.8 L1230.1,202.6 L1231.1,202.4 L1232.1,202.1 L1233.1,201.9 L1234.1,201.6 L1235.1,201.4 L1236.1,201.2 L1237.1,200.9 L1238.1,200.7 L1239.1,200.4 L1240.1,200.2 L1241.1,200.0 L1242.1,199.7 L1243.1,199.5 L1244.1,199.3 L1245.1,199.0 L1246.1,198.8 L1247.1,198.6 L1248.1,198.4 L1249.1,198.1 L1250.1,197.9 L1251.1,197.7 L1252.1,197.5 L1253.1,197.3 L1254.1,197.0 L1255.1,196.8 L1256.1,196.6 L1257.1,196.4 L1258.1,196.2 L1259.1,196.0 L1260.1,195.7 L1261.1,195.5 L1262.1,195.3 L1263.1,195.1 L1264.1,194.9 L1265.1,194.7 L1266.1,194.5 L1267.1,194.3 L1268.1,194.1 L1269.1,193.9 L1270.1,193.7 L1271.1,193.5 L1272.1,193.3 L1273.1,193.0 L1274.1,192.8 L1275.1,192.6 L1276.1,192.5 L1277.1,192.3 L1278.1,192.1 L1279.1,191.9 L1280.1,191.7 L1281.1,191.5 L1282.1,191.3 L1283.1,191.1 L1284.1,190.9 L1285.1,190.7 L1286.1,190.5 L1287.1,190.3 L1288.1,190.1 L1289.1,189.9 L1290.1,189.7 L1291.1,189.6 L1292.1,189.4 L1293.1,189.2 L1294.1,189.0 L1295.1,188.8 L1296.1,188.6 L1297.1,188.5 L1298.1,188.3 L1299.1,188.1 L1300.1,187.9 L1301.1,187.7 L1302.1,187.5 L1303.1,187.4 L1304.1,187.2 L1305.1,187.0 L1306.1,186.8 L1307.1,186.6 L1308.1,186.5 L1309.1,186.3 L1310.1,186.1 L1311.1,185.9 L1312.1,185.8 L1313.1,185.6 L1314.1,185.4 L1315.1,185.2 L1316.1,185.1 L1317.1,184.9 L1318.1,184.7 L1319.1,184.5 L1320.1,184.4 L1321.1,184.2 L1322.1,184.0 L1323.1,183.9 L1324.1,183.7 L1325.1,183.5 L1326.1,183.3 L1327.1,183.2 L1328.1,183.0 L1329.1,182.8 L1330.1,182.7 L1331.1,182.5 L1332.1,182.3 L1333.1,182.2 L1334.1,182.0 L1335.1,181.8 L1336.1,181.7 L1337.1,181.5 L1338.1,181.3 L1339.1,181.1 L1340.1,181.0 L1341.1,180.8 L1342.1,180.6 L1343.1,180.5 L1344.1,180.3 L1345.1,180.1 L1346.1,180.0 L1347.1,179.8 L1348.1,179.7 L1349.1,179.5 L1350.1,179.3 L1351.1,179.2 L1352.1,179.0 L1353.1,178.8 L1354.1,178.7 L1355.1,178.5 L1356.1,178.3 L1357.1,178.2 L1358.1,178.0 L1359.1,177.8 L1360.1,177.7 L1361.1,177.5 L1362.1,177.4 L1363.1,177.2 L1364.1,177.0 L1365.1,176.9 L1366.1,176.7 L1367.1,176.5 L1368.1,176.4 L1369.1,176.2 L1370.1,176.1 L1371.1,175.9 L1372.1,175.7 L1373.1,175.6 L1374.1,175.4 L1375.1,175.3 L1376.1,175.1 L1377.1,174.9 L1378.1,174.8 L1379.1,174.6 L1380.1,174.5 L1381.1,174.3 L1382.1,174.1 L1383.1,174.0 L1384.1,173.8 L1385.1,173.7 L1386.1,173.5 L1387.1,173.3 L1388.1,173.2 L1389.1,173.0 L1390.1,172.9 L1391.1,172.7 L1392.1,172.6 L1393.1,172.4 L1394.1,172.2 L1395.1,172.1 L1396.1,171.9 L1397.1,171.8 L1398.1,171.6 L1399.1,171.5 L1400.1,171.3 L1401.1,171.1 L1402.1,171.0 L1403.1,170.8 L1404.1,170.7 L1405.1,170.5 L1406.1,170.4 L1407.1,170.2 L1408.1,170.0 L1409.1,169.9 L1410.1,169.7 L1411.1,169.6 L1412.1,169.4 L1413.1,169.3 L1414.1,169.1 L1415.1,169.0 L1416.1,168.8 L1417.1,168.6 L1418.1,168.5 L1419.1,168.3 L1420.1,168.2 L1421.1,168.0 L1422.1,167.9 L1423.1,167.7 L1424.1,167.6 L1425.1,167.4 L1426.1,167.3 L1427.1,167.1 L1428.1,166.9 L1429.1,166.8 L1430.1,166.6 L1431.1,166.5 L1432.1,166.3 L1433.1,166.2 L1434.1,166.0 L1435.1,165.9 L1436.1,165.7 L1437.1,165.6 L1438.1,165.4 L1439.1,165.3 L1440.1,165.1 L1441.1,165.0 L1442.1,164.8 L1443.1,164.7 L1444.1,164.5 L1445.1,164.4 L1446.1,164.2 L1447.1,164.1 L1448.1,163.9 L1449.1,163.8 L1450.1,163.6 L1451.1,163.5 L1452.1,163.3 L1453.1,163.2 L1454.1,163.0 L1455.1,162.9 L1456.1,162.8 L1457.1,162.6 L1458.1,162.5 L1459.1,162.3 L1460.1,162.2 L1461.1,162.0 L1462.1,161.9 L1463.1,161.7 L1464.1,161.6 L1465.1,161.5 L1466.1,161.3 L1467.1,161.2 L1468.1,161.0 L1469.1,160.9 L1470.1,160.7 L1471.1,160.6 L1472.1,160.5 L1473.1,160.3 L1474.1,160.2 L1475.1,160.0 L1476.1,159.9 L1477.1,159.8 L1478.1,159.6 L1479.1,159.5 L1480.1,159.4 L1481.1,159.2 L1482.1,159.1 L1483.1,159.0 L1484.1,158.8 L1485.1,158.7 L1486.1,158.6 L1487.1,158.4 L1488.1,158.3 L1489.1,158.2 L1490.1,158.0 L1491.1,157.9 L1492.1,157.8 L1493.1,157.6 L1494.1,157.5 L1495.1,157.4 L1496.1,157.2 L1497.1,157.1 L1498.1,157.0 L1499.1,156.9 L1500.1,156.7 L1501.1,156.6 L1502.1,156.5 L1503.1,156.4 L1504.1,156.3 L1505.1,156.1 L1506.1,156.0 L1507.1,155.9 L1508.1,155.8 L1509.1,155.7 L1510.1,155.5 L1511.1,155.4 L1512.1,155.3 L1513.1,155.2 L1514.1,155.1 L1515.1,155.0 L1516.1,154.9 L1517.1,154.8 L1518.1,154.7 L1519.1,154.5 L1520.1,154.4 L1521.1,154.3 L1522.1,154.2 L1523.1,154.1 L1524.1,154.0 L1525.1,153.9 L1526.1,153.8 L1527.1,153.7 L1528.1,153.7 L1529.1,153.6 L1530.1,153.5 L1531.1,153.4 L1532.1,153.3 L1533.1,153.2 L1534.1,153.1 L1535.1,153.0 L1536.1,153.0 L1537.1,152.9 L1538.1,152.8 L1539.1,152.7 L1540.1,152.7 L1541.1,152.6 L1542.1,152.5 L1543.1,152.4 L1544.1,152.4 L1545.1,152.3 L1546.1,152.3 L1547.1,152.2 L1548.1,152.1 L1549.1,152.1 L1550.1,152.0 L1551.1,152.0 L1552.1,151.9 L1553.1,151.9 L1554.1,151.8 L1555.1,151.8 L1556.1,151.7 L1557.1,151.7 L1558.1,151.7 L1559.1,151.6 L1560.1,151.6 L1561.1,151.6 L1562.1,151.5 L1563.1,151.5 L1564.1,151.5 L1565.1,151.5 L1566.1,151.5 L1567.1,151.4 L1568.1,151.4 L1569.1,151.4 L1570.1,151.4 L1571.1,151.4 L1572.1,151.4 L1573.1,151.4 L1573.5,151.4" fill="none" stroke="#121212" stroke-width="2.35" stroke-linejoin="round" clip-path="url(#cB)"/>
<path d="M893.1,554.4 L894.1,554.2 L895.1,554.0 L896.1,553.7 L897.1,553.3 L898.1,552.8 L899.1,552.4 L900.1,551.8 L901.1,551.3 L902.1,550.6 L903.1,550.0 L904.1,549.2 L905.1,548.4 L906.1,547.6 L907.1,546.6 L908.1,545.6 L909.1,544.5 L910.1,543.4 L911.1,542.2 L912.1,540.9 L913.1,539.6 L914.1,538.2 L915.1,536.6 L916.1,534.7 L917.1,532.4 L918.1,529.7 L919.1,526.5 L920.1,523.0 L921.1,519.1 L922.1,515.1 L923.1,511.0 L924.1,506.9 L925.1,502.9 L926.1,499.1 L927.1,495.3 L928.1,491.5 L929.1,487.7 L930.1,483.9 L931.1,480.1 L932.1,476.1 L933.1,472.1 L934.1,468.1 L935.1,463.9 L936.1,459.8 L937.1,455.6 L938.1,451.4 L939.1,447.2 L940.1,443.0 L941.1,438.8 L942.1,434.6 L943.1,430.5 L944.1,426.4 L945.1,422.4 L946.1,418.4 L947.1,414.6 L948.1,410.8 L949.1,407.2 L950.1,403.6 L951.1,400.2 L952.1,396.8 L953.1,393.5 L954.1,390.3 L955.1,387.1 L956.1,383.9 L957.1,380.8 L958.1,377.6 L959.1,374.5 L960.1,371.4 L961.1,368.4 L962.1,365.3 L963.1,362.3 L964.1,359.4 L965.1,356.5 L966.1,353.7 L967.1,351.0 L968.1,348.3 L969.1,345.8 L970.1,343.3 L971.1,341.0 L972.1,338.8 L973.1,336.7 L974.1,334.6 L975.1,332.7 L976.1,330.8 L977.1,329.0 L978.1,327.2 L979.1,325.5 L980.1,323.9 L981.1,322.3 L982.1,320.7 L983.1,319.1 L984.1,317.6 L985.1,316.0 L986.1,314.5 L987.1,312.9 L988.1,311.4 L989.1,309.9 L990.1,308.5 L991.1,307.0 L992.1,305.5 L993.1,304.1 L994.1,302.7 L995.1,301.4 L996.1,300.0 L997.1,298.7 L998.1,297.4 L999.1,296.1 L1000.1,294.9 L1001.1,293.7 L1002.1,292.6 L1003.1,291.5 L1004.1,290.4 L1005.1,289.3 L1006.1,288.3 L1007.1,287.3 L1008.1,286.4 L1009.1,285.4 L1010.1,284.5 L1011.1,283.6 L1012.1,282.7 L1013.1,281.9 L1014.1,281.0 L1015.1,280.2 L1016.1,279.4 L1017.1,278.7 L1018.1,277.9 L1019.1,277.1 L1020.1,276.4 L1021.1,275.7 L1022.1,275.0 L1023.1,274.2 L1024.1,273.5 L1025.1,272.9 L1026.1,272.2 L1027.1,271.5 L1028.1,270.9 L1029.1,270.2 L1030.1,269.6 L1031.1,268.9 L1032.1,268.3 L1033.1,267.7 L1034.1,267.1 L1035.1,266.5 L1036.1,265.9 L1037.1,265.3 L1038.1,264.7 L1039.1,264.1 L1040.1,263.5 L1041.1,262.9 L1042.1,262.4 L1043.1,261.8 L1044.1,261.2 L1045.1,260.7 L1046.1,260.1 L1047.1,259.5 L1048.1,259.0 L1049.1,258.4 L1050.1,257.9 L1051.1,257.3 L1052.1,256.8 L1053.1,256.3 L1054.1,255.7 L1055.1,255.2 L1056.1,254.7 L1057.1,254.1 L1058.1,253.6 L1059.1,253.1 L1060.1,252.6 L1061.1,252.1 L1062.1,251.6 L1063.1,251.1 L1064.1,250.6 L1065.1,250.1 L1066.1,249.6 L1067.1,249.2 L1068.1,248.7 L1069.1,248.2 L1070.1,247.8 L1071.1,247.3 L1072.1,246.9 L1073.1,246.4 L1074.1,246.0 L1075.1,245.5 L1076.1,245.1 L1077.1,244.7 L1078.1,244.3 L1079.1,243.9 L1080.1,243.5 L1081.1,243.1 L1082.1,242.7 L1083.1,242.3 L1084.1,242.0 L1085.1,241.6 L1086.1,241.3 L1087.1,240.9 L1088.1,240.6 L1089.1,240.2 L1090.1,239.9 L1091.1,239.6 L1092.1,239.2 L1093.1,238.9 L1094.1,238.6 L1095.1,238.3 L1096.1,238.0 L1097.1,237.7 L1098.1,237.4 L1099.1,237.1 L1100.1,236.8 L1101.1,236.5 L1102.1,236.3 L1103.1,236.0 L1104.1,235.7 L1105.1,235.4 L1106.1,235.2 L1107.1,234.9 L1108.1,234.7 L1109.1,234.4 L1110.1,234.1 L1111.1,233.9 L1112.1,233.6 L1113.1,233.4 L1114.1,233.1 L1115.1,232.9 L1116.1,232.6 L1117.1,232.4 L1118.1,232.1 L1119.1,231.9 L1120.1,231.7 L1121.1,231.4 L1122.1,231.2 L1123.1,230.9 L1124.1,230.7 L1125.1,230.4 L1126.1,230.2 L1127.1,230.0 L1128.1,229.7 L1129.1,229.5 L1130.1,229.2 L1131.1,229.0 L1132.1,228.7 L1133.1,228.5 L1134.1,228.2 L1135.1,228.0 L1136.1,227.7 L1137.1,227.5 L1138.1,227.3 L1139.1,227.0 L1140.1,226.8 L1141.1,226.5 L1142.1,226.3 L1143.1,226.0 L1144.1,225.8 L1145.1,225.5 L1146.1,225.3 L1147.1,225.1 L1148.1,224.8 L1149.1,224.6 L1150.1,224.3 L1151.1,224.1 L1152.1,223.9 L1153.1,223.6 L1154.1,223.4 L1155.1,223.1 L1156.1,222.9 L1157.1,222.7 L1158.1,222.4 L1159.1,222.2 L1160.1,222.0 L1161.1,221.7 L1162.1,221.5 L1163.1,221.3 L1164.1,221.1 L1165.1,220.8 L1166.1,220.6 L1167.1,220.4 L1168.1,220.2 L1169.1,220.0 L1170.1,219.7 L1171.1,219.5 L1172.1,219.3 L1173.1,219.1 L1174.1,218.9 L1175.1,218.7 L1176.1,218.5 L1177.1,218.3 L1178.1,218.1 L1179.1,217.9 L1180.1,217.7 L1181.1,217.5 L1182.1,217.3 L1183.1,217.1 L1184.1,216.9 L1185.1,216.7 L1186.1,216.5 L1187.1,216.3 L1188.1,216.2 L1189.1,216.0 L1190.1,215.8 L1191.1,215.6 L1192.1,215.5 L1193.1,215.3 L1194.1,215.1 L1195.1,214.9 L1196.1,214.8 L1197.1,214.6 L1198.1,214.4 L1199.1,214.3 L1200.1,214.1 L1201.1,214.0 L1202.1,213.8 L1203.1,213.6 L1204.1,213.5 L1205.1,213.3 L1206.1,213.2 L1207.1,213.0 L1208.1,212.9 L1209.1,212.7 L1210.1,212.6 L1211.1,212.4 L1212.1,212.3 L1213.1,212.1 L1214.1,212.0 L1215.1,211.8 L1216.1,211.7 L1217.1,211.6 L1218.1,211.4 L1219.1,211.3 L1220.1,211.1 L1221.1,211.0 L1222.1,210.9 L1223.1,210.7 L1224.1,210.6 L1225.1,210.5 L1226.1,210.3 L1227.1,210.2 L1228.1,210.1 L1229.1,209.9 L1230.1,209.8 L1231.1,209.7 L1232.1,209.5 L1233.1,209.4 L1234.1,209.3 L1235.1,209.1 L1236.1,209.0 L1237.1,208.9 L1238.1,208.7 L1239.1,208.6 L1240.1,208.5 L1241.1,208.3 L1242.1,208.2 L1243.1,208.1 L1244.1,208.0 L1245.1,207.8 L1246.1,207.7 L1247.1,207.6 L1248.1,207.4 L1249.1,207.3 L1250.1,207.2 L1251.1,207.0 L1252.1,206.9 L1253.1,206.8 L1254.1,206.7 L1255.1,206.5 L1256.1,206.4 L1257.1,206.3 L1258.1,206.1 L1259.1,206.0 L1260.1,205.9 L1261.1,205.7 L1262.1,205.6 L1263.1,205.5 L1264.1,205.3 L1265.1,205.2 L1266.1,205.1 L1267.1,204.9 L1268.1,204.8 L1269.1,204.7 L1270.1,204.5 L1271.1,204.4 L1272.1,204.3 L1273.1,204.1 L1274.1,204.0 L1275.1,203.9 L1276.1,203.7 L1277.1,203.6 L1278.1,203.5 L1279.1,203.3 L1280.1,203.2 L1281.1,203.1 L1282.1,202.9 L1283.1,202.8 L1284.1,202.7 L1285.1,202.5 L1286.1,202.4 L1287.1,202.2 L1288.1,202.1 L1289.1,202.0 L1290.1,201.8 L1291.1,201.7 L1292.1,201.6 L1293.1,201.4 L1294.1,201.3 L1295.1,201.2 L1296.1,201.0 L1297.1,200.9 L1298.1,200.8 L1299.1,200.6 L1300.1,200.5 L1301.1,200.4 L1302.1,200.2 L1303.1,200.1 L1304.1,200.0 L1305.1,199.8 L1306.1,199.7 L1307.1,199.6 L1308.1,199.4 L1309.1,199.3 L1310.1,199.2 L1311.1,199.1 L1312.1,198.9 L1313.1,198.8 L1314.1,198.7 L1315.1,198.5 L1316.1,198.4 L1317.1,198.3 L1318.1,198.1 L1319.1,198.0 L1320.1,197.9 L1321.1,197.7 L1322.1,197.6 L1323.1,197.5 L1324.1,197.4 L1325.1,197.2 L1326.1,197.1 L1327.1,197.0 L1328.1,196.9 L1329.1,196.7 L1330.1,196.6 L1331.1,196.5 L1332.1,196.3 L1333.1,196.2 L1334.1,196.1 L1335.1,196.0 L1336.1,195.8 L1337.1,195.7 L1338.1,195.6 L1339.1,195.5 L1340.1,195.4 L1341.1,195.2 L1342.1,195.1 L1343.1,195.0 L1344.1,194.9 L1345.1,194.7 L1346.1,194.6 L1347.1,194.5 L1348.1,194.4 L1349.1,194.3 L1350.1,194.1 L1351.1,194.0 L1352.1,193.9 L1353.1,193.8 L1354.1,193.7 L1355.1,193.5 L1356.1,193.4 L1357.1,193.3 L1358.1,193.2 L1359.1,193.1 L1360.1,192.9 L1361.1,192.8 L1362.1,192.7 L1363.1,192.6 L1364.1,192.5 L1365.1,192.4 L1366.1,192.2 L1367.1,192.1 L1368.1,192.0 L1369.1,191.9 L1370.1,191.8 L1371.1,191.7 L1372.1,191.5 L1373.1,191.4 L1374.1,191.3 L1375.1,191.2 L1376.1,191.1 L1377.1,191.0 L1378.1,190.8 L1379.1,190.7 L1380.1,190.6 L1381.1,190.5 L1382.1,190.4 L1383.1,190.3 L1384.1,190.1 L1385.1,190.0 L1386.1,189.9 L1387.1,189.8 L1388.1,189.7 L1389.1,189.6 L1390.1,189.5 L1391.1,189.3 L1392.1,189.2 L1393.1,189.1 L1394.1,189.0 L1395.1,188.9 L1396.1,188.8 L1397.1,188.7 L1398.1,188.5 L1399.1,188.4 L1400.1,188.3 L1401.1,188.2 L1402.1,188.1 L1403.1,188.0 L1404.1,187.9 L1405.1,187.7 L1406.1,187.6 L1407.1,187.5 L1408.1,187.4 L1409.1,187.3 L1410.1,187.2 L1411.1,187.1 L1412.1,186.9 L1413.1,186.8 L1414.1,186.7 L1415.1,186.6 L1416.1,186.5 L1417.1,186.4 L1418.1,186.3 L1419.1,186.1 L1420.1,186.0 L1421.1,185.9 L1422.1,185.8 L1423.1,185.7 L1424.1,185.6 L1425.1,185.4 L1426.1,185.3 L1427.1,185.2 L1428.1,185.1 L1429.1,185.0 L1430.1,184.9 L1431.1,184.8 L1432.1,184.6 L1433.1,184.5 L1434.1,184.4 L1435.1,184.3 L1436.1,184.2 L1437.1,184.1 L1438.1,184.0 L1439.1,183.8 L1440.1,183.7 L1441.1,183.6 L1442.1,183.5 L1443.1,183.4 L1444.1,183.3 L1445.1,183.2 L1446.1,183.0 L1447.1,182.9 L1448.1,182.8 L1449.1,182.7 L1450.1,182.6 L1451.1,182.5 L1452.1,182.4 L1453.1,182.2 L1454.1,182.1 L1455.1,182.0 L1456.1,181.9 L1457.1,181.8 L1458.1,181.7 L1459.1,181.6 L1460.1,181.5 L1461.1,181.3 L1462.1,181.2 L1463.1,181.1 L1464.1,181.0 L1465.1,180.9 L1466.1,180.8 L1467.1,180.7 L1468.1,180.6 L1469.1,180.4 L1470.1,180.3 L1471.1,180.2 L1472.1,180.1 L1473.1,180.0 L1474.1,179.9 L1475.1,179.8 L1476.1,179.7 L1477.1,179.6 L1478.1,179.5 L1479.1,179.3 L1480.1,179.2 L1481.1,179.1 L1482.1,179.0 L1483.1,178.9 L1484.1,178.8 L1485.1,178.7 L1486.1,178.6 L1487.1,178.5 L1488.1,178.4 L1489.1,178.3 L1490.1,178.2 L1491.1,178.0 L1492.1,177.9 L1493.1,177.8 L1494.1,177.7 L1495.1,177.6 L1496.1,177.5 L1497.1,177.4 L1498.1,177.3 L1499.1,177.2 L1500.1,177.1 L1501.1,177.0 L1502.1,176.9 L1503.1,176.8 L1504.1,176.7 L1505.1,176.6 L1506.1,176.5 L1507.1,176.4 L1508.1,176.3 L1509.1,176.2 L1510.1,176.1 L1511.1,176.0 L1512.1,175.8 L1513.1,175.7 L1514.1,175.6 L1515.1,175.5 L1516.1,175.4 L1517.1,175.3 L1518.1,175.2 L1519.1,175.1 L1520.1,175.0 L1521.1,174.9 L1522.1,174.8 L1523.1,174.7 L1524.1,174.6 L1525.1,174.5 L1526.1,174.4 L1527.1,174.3 L1528.1,174.2 L1529.1,174.1 L1530.1,174.0 L1531.1,173.9 L1532.1,173.8 L1533.1,173.7 L1534.1,173.6 L1535.1,173.5 L1536.1,173.4 L1537.1,173.3 L1538.1,173.2 L1539.1,173.1 L1540.1,173.0 L1541.1,172.9 L1542.1,172.8 L1543.1,172.7 L1544.1,172.6 L1545.1,172.5 L1546.1,172.5 L1547.1,172.4 L1548.1,172.3 L1549.1,172.2 L1550.1,172.1 L1551.1,172.0 L1552.1,171.9 L1553.1,171.8 L1554.1,171.7 L1555.1,171.6 L1556.1,171.5 L1557.1,171.4 L1558.1,171.3 L1559.1,171.2 L1560.1,171.1 L1561.1,171.0 L1562.1,170.9 L1563.1,170.8 L1564.1,170.7 L1565.1,170.6 L1566.1,170.5 L1567.1,170.4 L1568.1,170.3 L1569.1,170.2 L1570.1,170.1 L1571.1,170.0 L1572.1,169.9 L1573.1,169.8 L1573.5,169.8" fill="none" stroke="#d42630" stroke-width="2.9" stroke-dasharray="12 6.2" stroke-linejoin="round" clip-path="url(#cB)"/>
<path d="M893.1,554.4 L894.1,554.2 L895.1,554.0 L896.1,553.7 L897.1,553.3 L898.1,552.8 L899.1,552.4 L900.1,551.8 L901.1,551.3 L902.1,550.6 L903.1,550.0 L904.1,549.2 L905.1,548.4 L906.1,547.6 L907.1,546.6 L908.1,545.6 L909.1,544.5 L910.1,543.4 L911.1,542.2 L912.1,540.9 L913.1,539.6 L914.1,538.2 L915.1,536.6 L916.1,534.7 L917.1,532.4 L918.1,529.7 L919.1,526.5 L920.1,523.0 L921.1,519.1 L922.1,515.1 L923.1,511.0 L924.1,506.9 L925.1,502.9 L926.1,499.1 L927.1,495.3 L928.1,491.5 L929.1,487.7 L930.1,483.9 L931.1,480.1 L932.1,476.1 L933.1,472.1 L934.1,468.1 L935.1,463.9 L936.1,459.8 L937.1,455.6 L938.1,451.4 L939.1,447.2 L940.1,443.0 L941.1,438.8 L942.1,434.6 L943.1,430.5 L944.1,426.4 L945.1,422.4 L946.1,418.4 L947.1,414.6 L948.1,410.8 L949.1,407.2 L950.1,403.6 L951.1,400.2 L952.1,396.8 L953.1,393.5 L954.1,390.3 L955.1,387.1 L956.1,383.9 L957.1,380.8 L958.1,377.6 L959.1,374.5 L960.1,371.4 L961.1,368.4 L962.1,365.3 L963.1,362.3 L964.1,359.4 L965.1,356.5 L966.1,353.7 L967.1,351.0 L968.1,348.3 L969.1,345.8 L970.1,343.3 L971.1,341.0 L972.1,338.8 L973.1,336.7 L974.1,334.6 L975.1,332.7 L976.1,330.8 L977.1,329.0 L978.1,327.2 L979.1,325.5 L980.1,323.9 L981.1,322.3 L982.1,320.7 L983.1,319.1 L984.1,317.6 L985.1,316.0 L986.1,314.5 L987.1,312.9 L988.1,311.4 L989.1,309.9 L990.1,308.5 L991.1,307.0 L992.1,305.5 L993.1,304.1 L994.1,302.7 L995.1,301.4 L996.1,300.0 L997.1,298.7 L998.1,297.4 L999.1,296.1 L1000.1,294.9 L1001.1,293.7 L1002.1,292.6 L1003.1,291.5 L1004.1,290.4 L1005.1,289.3 L1006.1,288.3 L1007.1,287.3 L1008.1,286.4 L1009.1,285.4 L1010.1,284.5 L1011.1,283.6 L1012.1,282.7 L1013.1,281.9 L1014.1,281.0 L1015.1,280.2 L1016.1,279.4 L1017.1,278.7 L1018.1,277.9 L1019.1,277.1 L1020.1,276.4 L1021.1,275.7 L1022.1,275.0 L1023.1,274.3 L1024.1,273.6 L1025.1,272.9 L1026.1,272.2 L1027.1,271.5 L1028.1,270.9 L1029.1,270.2 L1030.1,269.6 L1031.1,268.9 L1032.1,268.3 L1033.1,267.7 L1034.1,267.1 L1035.1,266.5 L1036.1,265.9 L1037.1,265.3 L1038.1,264.7 L1039.1,264.1 L1040.1,263.5 L1041.1,262.9 L1042.1,262.3 L1043.1,261.8 L1044.1,261.2 L1045.1,260.6 L1046.1,260.1 L1047.1,259.5 L1048.1,259.0 L1049.1,258.4 L1050.1,257.9 L1051.1,257.3 L1052.1,256.8 L1053.1,256.3 L1054.1,255.7 L1055.1,255.2 L1056.1,254.7 L1057.1,254.1 L1058.1,253.6 L1059.1,253.1 L1060.1,252.6 L1061.1,252.1 L1062.1,251.6 L1063.1,251.1 L1064.1,250.6 L1065.1,250.1 L1066.1,249.6 L1067.1,249.2 L1068.1,248.7 L1069.1,248.2 L1070.1,247.8 L1071.1,247.3 L1072.1,246.9 L1073.1,246.4 L1074.1,246.0 L1075.1,245.6 L1076.1,245.1 L1077.1,244.7 L1078.1,244.3 L1079.1,243.9 L1080.1,243.5 L1081.1,243.1 L1082.1,242.7 L1083.1,242.4 L1084.1,242.0 L1085.1,241.6 L1086.1,241.3 L1087.1,240.9 L1088.1,240.6 L1089.1,240.2 L1090.1,239.9 L1091.1,239.6 L1092.1,239.2 L1093.1,238.9 L1094.1,238.6 L1095.1,238.3 L1096.1,238.0 L1097.1,237.7 L1098.1,237.4 L1099.1,237.1 L1100.1,236.8 L1101.1,236.5 L1102.1,236.3 L1103.1,236.0 L1104.1,235.7 L1105.1,235.4 L1106.1,235.2 L1107.1,234.9 L1108.1,234.6 L1109.1,234.4 L1110.1,234.1 L1111.1,233.9 L1112.1,233.6 L1113.1,233.3 L1114.1,233.1 L1115.1,232.8 L1116.1,232.6 L1117.1,232.4 L1118.1,232.1 L1119.1,231.9 L1120.1,231.6 L1121.1,231.4 L1122.1,231.1 L1123.1,230.9 L1124.1,230.6 L1125.1,230.4 L1126.1,230.2 L1127.1,229.9 L1128.1,229.7 L1129.1,229.4 L1130.1,229.2 L1131.1,228.9 L1132.1,228.7 L1133.1,228.5 L1134.1,228.2 L1135.1,228.0 L1136.1,227.7 L1137.1,227.5 L1138.1,227.3 L1139.1,227.0 L1140.1,226.8 L1141.1,226.5 L1142.1,226.3 L1143.1,226.0 L1144.1,225.8 L1145.1,225.6 L1146.1,225.3 L1147.1,225.1 L1148.1,224.9 L1149.1,224.6 L1150.1,224.4 L1151.1,224.1 L1152.1,223.9 L1153.1,223.7 L1154.1,223.4 L1155.1,223.2 L1156.1,223.0 L1157.1,222.8 L1158.1,222.5 L1159.1,222.3 L1160.1,222.1 L1161.1,221.8 L1162.1,221.6 L1163.1,221.4 L1164.1,221.2 L1165.1,220.9 L1166.1,220.7 L1167.1,220.5 L1168.1,220.3 L1169.1,220.1 L1170.1,219.8 L1171.1,219.6 L1172.1,219.4 L1173.1,219.2 L1174.1,219.0 L1175.1,218.8 L1176.1,218.6 L1177.1,218.4 L1178.1,218.2 L1179.1,218.0 L1180.1,217.8 L1181.1,217.6 L1182.1,217.4 L1183.1,217.2 L1184.1,217.0 L1185.1,216.8 L1186.1,216.6 L1187.1,216.4 L1188.1,216.2 L1189.1,216.0 L1190.1,215.8 L1191.1,215.7 L1192.1,215.5 L1193.1,215.3 L1194.1,215.1 L1195.1,214.9 L1196.1,214.8 L1197.1,214.6 L1198.1,214.4 L1199.1,214.2 L1200.1,214.1 L1201.1,213.9 L1202.1,213.7 L1203.1,213.5 L1204.1,213.4 L1205.1,213.2 L1206.1,213.0 L1207.1,212.9 L1208.1,212.7 L1209.1,212.6 L1210.1,212.4 L1211.1,212.2 L1212.1,212.1 L1213.1,211.9 L1214.1,211.8 L1215.1,211.6 L1216.1,211.4 L1217.1,211.3 L1218.1,211.1 L1219.1,211.0 L1220.1,210.8 L1221.1,210.7 L1222.1,210.5 L1223.1,210.4 L1224.1,210.2 L1225.1,210.1 L1226.1,209.9 L1227.1,209.8 L1228.1,209.6 L1229.1,209.5 L1230.1,209.3 L1231.1,209.2 L1232.1,209.0 L1233.1,208.9 L1234.1,208.7 L1235.1,208.6 L1236.1,208.4 L1237.1,208.3 L1238.1,208.2 L1239.1,208.0 L1240.1,207.9 L1241.1,207.7 L1242.1,207.6 L1243.1,207.4 L1244.1,207.3 L1245.1,207.2 L1246.1,207.0 L1247.1,206.9 L1248.1,206.7 L1249.1,206.6 L1250.1,206.4 L1251.1,206.3 L1252.1,206.2 L1253.1,206.0 L1254.1,205.9 L1255.1,205.7 L1256.1,205.6 L1257.1,205.5 L1258.1,205.3 L1259.1,205.2 L1260.1,205.0 L1261.1,204.9 L1262.1,204.7 L1263.1,204.6 L1264.1,204.5 L1265.1,204.3 L1266.1,204.2 L1267.1,204.0 L1268.1,203.9 L1269.1,203.7 L1270.1,203.6 L1271.1,203.5 L1272.1,203.3 L1273.1,203.2 L1274.1,203.0 L1275.1,202.9 L1276.1,202.7 L1277.1,202.6 L1278.1,202.4 L1279.1,202.3 L1280.1,202.2 L1281.1,202.0 L1282.1,201.9 L1283.1,201.7 L1284.1,201.6 L1285.1,201.4 L1286.1,201.3 L1287.1,201.1 L1288.1,201.0 L1289.1,200.8 L1290.1,200.7 L1291.1,200.6 L1292.1,200.4 L1293.1,200.3 L1294.1,200.1 L1295.1,200.0 L1296.1,199.8 L1297.1,199.7 L1298.1,199.5 L1299.1,199.4 L1300.1,199.2 L1301.1,199.1 L1302.1,198.9 L1303.1,198.8 L1304.1,198.6 L1305.1,198.5 L1306.1,198.3 L1307.1,198.2 L1308.1,198.0 L1309.1,197.9 L1310.1,197.7 L1311.1,197.6 L1312.1,197.4 L1313.1,197.3 L1314.1,197.1 L1315.1,196.9 L1316.1,196.8 L1317.1,196.6 L1318.1,196.5 L1319.1,196.3 L1320.1,196.2 L1321.1,196.0 L1322.1,195.9 L1323.1,195.7 L1324.1,195.5 L1325.1,195.4 L1326.1,195.2 L1327.1,195.1 L1328.1,194.9 L1329.1,194.7 L1330.1,194.6 L1331.1,194.4 L1332.1,194.3 L1333.1,194.1 L1334.1,193.9 L1335.1,193.8 L1336.1,193.6 L1337.1,193.4 L1338.1,193.3 L1339.1,193.1 L1340.1,192.9 L1341.1,192.8 L1342.1,192.6 L1343.1,192.4 L1344.1,192.3 L1345.1,192.1 L1346.1,191.9 L1347.1,191.8 L1348.1,191.6 L1349.1,191.4 L1350.1,191.3 L1351.1,191.1 L1352.1,190.9 L1353.1,190.8 L1354.1,190.6 L1355.1,190.4 L1356.1,190.3 L1357.1,190.1 L1358.1,189.9 L1359.1,189.7 L1360.1,189.6 L1361.1,189.4 L1362.1,189.2 L1363.1,189.1 L1364.1,188.9 L1365.1,188.7 L1366.1,188.5 L1367.1,188.4 L1368.1,188.2 L1369.1,188.0 L1370.1,187.9 L1371.1,187.7 L1372.1,187.5 L1373.1,187.3 L1374.1,187.2 L1375.1,187.0 L1376.1,186.8 L1377.1,186.7 L1378.1,186.5 L1379.1,186.3 L1380.1,186.1 L1381.1,186.0 L1382.1,185.8 L1383.1,185.6 L1384.1,185.4 L1385.1,185.3 L1386.1,185.1 L1387.1,184.9 L1388.1,184.8 L1389.1,184.6 L1390.1,184.4 L1391.1,184.2 L1392.1,184.1 L1393.1,183.9 L1394.1,183.7 L1395.1,183.6 L1396.1,183.4 L1397.1,183.2 L1398.1,183.1 L1399.1,182.9 L1400.1,182.7 L1401.1,182.6 L1402.1,182.4 L1403.1,182.2 L1404.1,182.0 L1405.1,181.9 L1406.1,181.7 L1407.1,181.5 L1408.1,181.4 L1409.1,181.2 L1410.1,181.0 L1411.1,180.9 L1412.1,180.7 L1413.1,180.6 L1414.1,180.4 L1415.1,180.2 L1416.1,180.1 L1417.1,179.9 L1418.1,179.7 L1419.1,179.6 L1420.1,179.4 L1421.1,179.2 L1422.1,179.1 L1423.1,178.9 L1424.1,178.8 L1425.1,178.6 L1426.1,178.4 L1427.1,178.3 L1428.1,178.1 L1429.1,178.0 L1430.1,177.8 L1431.1,177.6 L1432.1,177.5 L1433.1,177.3 L1434.1,177.2 L1435.1,177.0 L1436.1,176.8 L1437.1,176.7 L1438.1,176.5 L1439.1,176.4 L1440.1,176.2 L1441.1,176.1 L1442.1,175.9 L1443.1,175.7 L1444.1,175.6 L1445.1,175.4 L1446.1,175.3 L1447.1,175.1 L1448.1,175.0 L1449.1,174.8 L1450.1,174.7 L1451.1,174.5 L1452.1,174.3 L1453.1,174.2 L1454.1,174.0 L1455.1,173.9 L1456.1,173.7 L1457.1,173.6 L1458.1,173.4 L1459.1,173.3 L1460.1,173.1 L1461.1,172.9 L1462.1,172.8 L1463.1,172.6 L1464.1,172.5 L1465.1,172.3 L1466.1,172.2 L1467.1,172.0 L1468.1,171.9 L1469.1,171.7 L1470.1,171.6 L1471.1,171.4 L1472.1,171.2 L1473.1,171.1 L1474.1,170.9 L1475.1,170.8 L1476.1,170.6 L1477.1,170.5 L1478.1,170.3 L1479.1,170.2 L1480.1,170.0 L1481.1,169.9 L1482.1,169.7 L1483.1,169.6 L1484.1,169.4 L1485.1,169.2 L1486.1,169.1 L1487.1,168.9 L1488.1,168.8 L1489.1,168.6 L1490.1,168.5 L1491.1,168.3 L1492.1,168.2 L1493.1,168.0 L1494.1,167.8 L1495.1,167.7 L1496.1,167.5 L1497.1,167.4 L1498.1,167.2 L1499.1,167.1 L1500.1,166.9 L1501.1,166.8 L1502.1,166.6 L1503.1,166.4 L1504.1,166.3 L1505.1,166.1 L1506.1,166.0 L1507.1,165.8 L1508.1,165.6 L1509.1,165.5 L1510.1,165.3 L1511.1,165.2 L1512.1,165.0 L1513.1,164.9 L1514.1,164.7 L1515.1,164.5 L1516.1,164.4 L1517.1,164.2 L1518.1,164.1 L1519.1,163.9 L1520.1,163.7 L1521.1,163.6 L1522.1,163.4 L1523.1,163.2 L1524.1,163.1 L1525.1,162.9 L1526.1,162.8 L1527.1,162.6 L1528.1,162.4 L1529.1,162.3 L1530.1,162.1 L1531.1,161.9 L1532.1,161.8 L1533.1,161.6 L1534.1,161.4 L1535.1,161.3 L1536.1,161.1 L1537.1,160.9 L1538.1,160.8 L1539.1,160.6 L1540.1,160.4 L1541.1,160.2 L1542.1,160.1 L1543.1,159.9 L1544.1,159.7 L1545.1,159.6 L1546.1,159.4 L1547.1,159.2 L1548.1,159.0 L1549.1,158.9 L1550.1,158.7 L1551.1,158.5 L1552.1,158.3 L1553.1,158.2 L1554.1,158.0 L1555.1,157.8 L1556.1,157.6 L1557.1,157.4 L1558.1,157.3 L1559.1,157.1 L1560.1,156.9 L1561.1,156.7 L1562.1,156.5 L1563.1,156.4 L1564.1,156.2 L1565.1,156.0 L1566.1,155.8 L1567.1,155.6 L1568.1,155.4 L1569.1,155.2 L1570.1,155.1 L1571.1,154.9 L1572.1,154.7 L1573.1,154.5 L1573.5,154.4" fill="none" stroke="#2424c8" stroke-width="2.9" stroke-dasharray="11.5 6.6 2.4 6.6" stroke-linejoin="round" clip-path="url(#cB)"/>
<rect x="375.3" y="310.2" width="370.30" height="203.10" fill="#fff"/>
<rect x="1171.9" y="308.9" width="370.30" height="202.50" fill="#fff"/>
<path d="M375.3,507.8 L376.3,507.8 L377.3,507.8 L378.3,507.8 L379.3,507.8 L380.3,507.7 L381.3,507.7 L382.3,507.7 L383.3,507.6 L384.3,507.6 L385.3,507.5 L386.3,507.5 L387.3,507.5 L388.3,507.4 L389.3,507.4 L390.3,507.3 L391.3,507.3 L392.3,507.2 L393.3,507.2 L394.3,507.1 L395.3,507.1 L396.3,507.0 L397.3,506.9 L398.3,506.9 L399.3,506.8 L400.3,506.8 L401.3,506.7 L402.3,506.6 L403.3,506.6 L404.3,506.5 L405.3,506.4 L406.3,506.3 L407.3,506.3 L408.3,506.2 L409.3,506.1 L410.3,506.0 L411.3,505.9 L412.3,505.9 L413.3,505.8 L414.3,505.7 L415.3,505.6 L416.3,505.5 L417.3,505.4 L418.3,505.3 L419.3,505.2 L420.3,505.1 L421.3,505.0 L422.3,504.9 L423.3,504.8 L424.3,504.7 L425.3,504.6 L426.3,504.5 L427.3,504.4 L428.3,504.3 L429.3,504.2 L430.3,504.1 L431.3,504.0 L432.3,503.9 L433.3,503.8 L434.3,503.7 L435.3,503.6 L436.3,503.5 L437.3,503.3 L438.3,503.2 L439.3,503.1 L440.3,503.0 L441.3,502.9 L442.3,502.8 L443.3,502.6 L444.3,502.5 L445.3,502.4 L446.3,502.3 L447.3,502.1 L448.3,502.0 L449.3,501.9 L450.3,501.8 L451.3,501.6 L452.3,501.5 L453.3,501.4 L454.3,501.2 L455.3,501.1 L456.3,501.0 L457.3,500.8 L458.3,500.7 L459.3,500.6 L460.3,500.4 L461.3,500.3 L462.3,500.2 L463.3,500.0 L464.3,499.9 L465.3,499.7 L466.3,499.6 L467.3,499.5 L468.3,499.3 L469.3,499.2 L470.3,499.0 L471.3,498.9 L472.3,498.7 L473.3,498.6 L474.3,498.4 L475.3,498.3 L476.3,498.2 L477.3,498.0 L478.3,497.9 L479.3,497.7 L480.3,497.6 L481.3,497.4 L482.3,497.3 L483.3,497.1 L484.3,497.0 L485.3,496.8 L486.3,496.7 L487.3,496.5 L488.3,496.3 L489.3,496.2 L490.3,496.0 L491.3,495.9 L492.3,495.7 L493.3,495.6 L494.3,495.4 L495.3,495.3 L496.3,495.1 L497.3,494.9 L498.3,494.8 L499.3,494.6 L500.3,494.5 L501.3,494.3 L502.3,494.1 L503.3,494.0 L504.3,493.8 L505.3,493.7 L506.3,493.5 L507.3,493.3 L508.3,493.2 L509.3,493.0 L510.3,492.8 L511.3,492.7 L512.3,492.5 L513.3,492.4 L514.3,492.2 L515.3,492.0 L516.3,491.9 L517.3,491.7 L518.3,491.5 L519.3,491.4 L520.3,491.2 L521.3,491.0 L522.3,490.9 L523.3,490.7 L524.3,490.5 L525.3,490.4 L526.3,490.2 L527.3,490.0 L528.3,489.8 L529.3,489.7 L530.3,489.5 L531.3,489.3 L532.3,489.2 L533.3,489.0 L534.3,488.8 L535.3,488.7 L536.3,488.5 L537.3,488.3 L538.3,488.1 L539.3,488.0 L540.3,487.8 L541.3,487.6 L542.3,487.5 L543.3,487.3 L544.3,487.1 L545.3,486.9 L546.3,486.8 L547.3,486.6 L548.3,486.4 L549.3,486.2 L550.3,486.1 L551.3,485.9 L552.3,485.7 L553.3,485.5 L554.3,485.4 L555.3,485.2 L556.3,485.0 L557.3,484.8 L558.3,484.7 L559.3,484.5 L560.3,484.3 L561.3,484.1 L562.3,484.0 L563.3,483.8 L564.3,483.6 L565.3,483.4 L566.3,483.3 L567.3,483.1 L568.3,482.9 L569.3,482.7 L570.3,482.6 L571.3,482.4 L572.3,482.2 L573.3,482.0 L574.3,481.9 L575.3,481.7 L576.3,481.5 L577.3,481.3 L578.3,481.2 L579.3,481.0 L580.3,480.8 L581.3,480.6 L582.3,480.5 L583.3,480.3 L584.3,480.1 L585.3,479.9 L586.3,479.7 L587.3,479.6 L588.3,479.4 L589.3,479.2 L590.3,479.0 L591.3,478.9 L592.3,478.7 L593.3,478.5 L594.3,478.3 L595.3,478.1 L596.3,478.0 L597.3,477.8 L598.3,477.6 L599.3,477.4 L600.3,477.3 L601.3,477.1 L602.3,476.9 L603.3,476.7 L604.3,476.5 L605.3,476.4 L606.3,476.2 L607.3,476.0 L608.3,475.8 L609.3,475.6 L610.3,475.5 L611.3,475.3 L612.3,475.1 L613.3,474.9 L614.3,474.7 L615.3,474.5 L616.3,474.4 L617.3,474.2 L618.3,474.0 L619.3,473.8 L620.3,473.6 L621.3,473.4 L622.3,473.3 L623.3,473.1 L624.3,472.9 L625.3,472.7 L626.3,472.5 L627.3,472.3 L628.3,472.2 L629.3,472.0 L630.3,471.8 L631.3,471.6 L632.3,471.4 L633.3,471.2 L634.3,471.0 L635.3,470.9 L636.3,470.7 L637.3,470.5 L638.3,470.3 L639.3,470.1 L640.3,469.9 L641.3,469.7 L642.3,469.5 L643.3,469.4 L644.3,469.2 L645.3,469.0 L646.3,468.8 L647.3,468.6 L648.3,468.4 L649.3,468.2 L650.3,468.0 L651.3,467.8 L652.3,467.6 L653.3,467.5 L654.3,467.3 L655.3,467.1 L656.3,466.9 L657.3,466.7 L658.3,466.5 L659.3,466.3 L660.3,466.1 L661.3,465.9 L662.3,465.7 L663.3,465.5 L664.3,465.3 L665.3,465.1 L666.3,464.9 L667.3,464.7 L668.3,464.5 L669.3,464.3 L670.3,464.1 L671.3,463.9 L672.3,463.7 L673.3,463.5 L674.3,463.3 L675.3,463.1 L676.3,462.9 L677.3,462.7 L678.3,462.5 L679.3,462.3 L680.3,462.1 L681.3,461.9 L682.3,461.7 L683.3,461.5 L684.3,461.3 L685.3,461.1 L686.3,460.9 L687.3,460.7 L688.3,460.5 L689.3,460.3 L690.3,460.1 L691.3,459.9 L692.3,459.7 L693.3,459.5 L694.3,459.3 L695.3,459.1 L696.3,458.9 L697.3,458.7 L698.3,458.4 L699.3,458.2 L700.3,458.0 L701.3,457.8 L702.3,457.6 L703.3,457.4 L704.3,457.2 L705.3,457.0 L706.3,456.8 L707.3,456.5 L708.3,456.3 L709.3,456.1 L710.3,455.9 L711.3,455.7 L712.3,455.5 L713.3,455.3 L714.3,455.0 L715.3,454.8 L716.3,454.6 L717.3,454.4 L718.3,454.2 L719.3,454.0 L720.3,453.7 L721.3,453.5 L722.3,453.3 L723.3,453.1 L724.3,452.9 L725.3,452.6 L726.3,452.4 L727.3,452.2 L728.3,452.0 L729.3,451.7 L730.3,451.5 L731.3,451.3 L732.3,451.1 L733.3,450.8 L734.3,450.6 L735.3,450.4 L736.3,450.2 L737.3,449.9 L738.3,449.7 L739.3,449.5 L740.3,449.2 L741.3,449.0 L742.3,448.8 L743.3,448.5 L744.3,448.3 L745.3,448.1 L745.6,448.0" fill="none" stroke="#121212" stroke-width="2.1" stroke-linejoin="round" clip-path="url(#cIA)"/>
<path d="M375.3,403.4 L376.3,403.4 L377.3,403.3 L378.3,403.3 L379.3,403.3 L380.3,403.2 L381.3,403.2 L382.3,403.2 L383.3,403.1 L384.3,403.1 L385.3,403.1 L386.3,403.0 L387.3,403.0 L388.3,402.9 L389.3,402.9 L390.3,402.8 L391.3,402.8 L392.3,402.7 L393.3,402.7 L394.3,402.6 L395.3,402.6 L396.3,402.5 L397.3,402.5 L398.3,402.4 L399.3,402.3 L400.3,402.3 L401.3,402.2 L402.3,402.2 L403.3,402.1 L404.3,402.0 L405.3,402.0 L406.3,401.9 L407.3,401.8 L408.3,401.7 L409.3,401.7 L410.3,401.6 L411.3,401.5 L412.3,401.4 L413.3,401.4 L414.3,401.3 L415.3,401.2 L416.3,401.1 L417.3,401.0 L418.3,400.9 L419.3,400.9 L420.3,400.8 L421.3,400.7 L422.3,400.6 L423.3,400.5 L424.3,400.4 L425.3,400.3 L426.3,400.2 L427.3,400.1 L428.3,400.0 L429.3,399.9 L430.3,399.8 L431.3,399.7 L432.3,399.6 L433.3,399.5 L434.3,399.4 L435.3,399.3 L436.3,399.2 L437.3,399.1 L438.3,399.0 L439.3,398.9 L440.3,398.8 L441.3,398.6 L442.3,398.5 L443.3,398.4 L444.3,398.3 L445.3,398.2 L446.3,398.1 L447.3,397.9 L448.3,397.8 L449.3,397.7 L450.3,397.6 L451.3,397.4 L452.3,397.3 L453.3,397.2 L454.3,397.1 L455.3,396.9 L456.3,396.8 L457.3,396.7 L458.3,396.5 L459.3,396.4 L460.3,396.3 L461.3,396.1 L462.3,396.0 L463.3,395.9 L464.3,395.7 L465.3,395.6 L466.3,395.4 L467.3,395.3 L468.3,395.2 L469.3,395.0 L470.3,394.9 L471.3,394.7 L472.3,394.6 L473.3,394.4 L474.3,394.3 L475.3,394.1 L476.3,394.0 L477.3,393.8 L478.3,393.7 L479.3,393.5 L480.3,393.4 L481.3,393.2 L482.3,393.1 L483.3,392.9 L484.3,392.8 L485.3,392.6 L486.3,392.4 L487.3,392.3 L488.3,392.1 L489.3,392.0 L490.3,391.8 L491.3,391.6 L492.3,391.5 L493.3,391.3 L494.3,391.1 L495.3,391.0 L496.3,390.8 L497.3,390.6 L498.3,390.5 L499.3,390.3 L500.3,390.1 L501.3,390.0 L502.3,389.8 L503.3,389.6 L504.3,389.4 L505.3,389.3 L506.3,389.1 L507.3,388.9 L508.3,388.7 L509.3,388.5 L510.3,388.4 L511.3,388.2 L512.3,388.0 L513.3,387.8 L514.3,387.6 L515.3,387.5 L516.3,387.3 L517.3,387.1 L518.3,386.9 L519.3,386.7 L520.3,386.5 L521.3,386.4 L522.3,386.2 L523.3,386.0 L524.3,385.8 L525.3,385.6 L526.3,385.4 L527.3,385.2 L528.3,385.0 L529.3,384.8 L530.3,384.6 L531.3,384.5 L532.3,384.3 L533.3,384.1 L534.3,383.9 L535.3,383.7 L536.3,383.5 L537.3,383.3 L538.3,383.1 L539.3,382.9 L540.3,382.7 L541.3,382.5 L542.3,382.3 L543.3,382.1 L544.3,381.9 L545.3,381.7 L546.3,381.5 L547.3,381.3 L548.3,381.1 L549.3,380.9 L550.3,380.7 L551.3,380.5 L552.3,380.3 L553.3,380.1 L554.3,379.9 L555.3,379.7 L556.3,379.4 L557.3,379.2 L558.3,379.0 L559.3,378.8 L560.3,378.6 L561.3,378.4 L562.3,378.2 L563.3,378.0 L564.3,377.8 L565.3,377.6 L566.3,377.4 L567.3,377.1 L568.3,376.9 L569.3,376.7 L570.3,376.5 L571.3,376.3 L572.3,376.1 L573.3,375.9 L574.3,375.7 L575.3,375.4 L576.3,375.2 L577.3,375.0 L578.3,374.8 L579.3,374.6 L580.3,374.4 L581.3,374.1 L582.3,373.9 L583.3,373.7 L584.3,373.5 L585.3,373.3 L586.3,373.1 L587.3,372.8 L588.3,372.6 L589.3,372.4 L590.3,372.2 L591.3,372.0 L592.3,371.7 L593.3,371.5 L594.3,371.3 L595.3,371.1 L596.3,370.9 L597.3,370.6 L598.3,370.4 L599.3,370.2 L600.3,370.0 L601.3,369.7 L602.3,369.5 L603.3,369.3 L604.3,369.1 L605.3,368.8 L606.3,368.6 L607.3,368.4 L608.3,368.2 L609.3,367.9 L610.3,367.7 L611.3,367.5 L612.3,367.3 L613.3,367.0 L614.3,366.8 L615.3,366.6 L616.3,366.3 L617.3,366.1 L618.3,365.9 L619.3,365.7 L620.3,365.4 L621.3,365.2 L622.3,365.0 L623.3,364.7 L624.3,364.5 L625.3,364.3 L626.3,364.0 L627.3,363.8 L628.3,363.6 L629.3,363.3 L630.3,363.1 L631.3,362.8 L632.3,362.6 L633.3,362.4 L634.3,362.1 L635.3,361.9 L636.3,361.7 L637.3,361.4 L638.3,361.2 L639.3,360.9 L640.3,360.7 L641.3,360.5 L642.3,360.2 L643.3,360.0 L644.3,359.7 L645.3,359.5 L646.3,359.2 L647.3,359.0 L648.3,358.8 L649.3,358.5 L650.3,358.3 L651.3,358.0 L652.3,357.8 L653.3,357.5 L654.3,357.3 L655.3,357.0 L656.3,356.8 L657.3,356.5 L658.3,356.3 L659.3,356.0 L660.3,355.8 L661.3,355.5 L662.3,355.3 L663.3,355.0 L664.3,354.8 L665.3,354.5 L666.3,354.3 L667.3,354.0 L668.3,353.7 L669.3,353.5 L670.3,353.2 L671.3,353.0 L672.3,352.7 L673.3,352.5 L674.3,352.2 L675.3,351.9 L676.3,351.7 L677.3,351.4 L678.3,351.2 L679.3,350.9 L680.3,350.6 L681.3,350.4 L682.3,350.1 L683.3,349.8 L684.3,349.6 L685.3,349.3 L686.3,349.0 L687.3,348.8 L688.3,348.5 L689.3,348.2 L690.3,348.0 L691.3,347.7 L692.3,347.4 L693.3,347.2 L694.3,346.9 L695.3,346.6 L696.3,346.3 L697.3,346.1 L698.3,345.8 L699.3,345.5 L700.3,345.2 L701.3,345.0 L702.3,344.7 L703.3,344.4 L704.3,344.1 L705.3,343.8 L706.3,343.6 L707.3,343.3 L708.3,343.0 L709.3,342.7 L710.3,342.4 L711.3,342.2 L712.3,341.9 L713.3,341.6 L714.3,341.3 L715.3,341.0 L716.3,340.7 L717.3,340.4 L718.3,340.2 L719.3,339.9 L720.3,339.6 L721.3,339.3 L722.3,339.0 L723.3,338.7 L724.3,338.4 L725.3,338.1 L726.3,337.8 L727.3,337.5 L728.3,337.2 L729.3,336.9 L730.3,336.6 L731.3,336.3 L732.3,336.0 L733.3,335.7 L734.3,335.4 L735.3,335.1 L736.3,334.8 L737.3,334.5 L738.3,334.2 L739.3,333.9 L740.3,333.6 L741.3,333.3 L742.3,333.0 L743.3,332.7 L744.3,332.4 L745.3,332.1 L745.6,332.0" fill="none" stroke="#d42630" stroke-width="2.8" stroke-dasharray="12 6.2" stroke-linejoin="round" clip-path="url(#cIA)"/>
<path d="M375.3,392.4 L376.3,392.3 L377.3,392.3 L378.3,392.2 L379.3,392.2 L380.3,392.1 L381.3,392.0 L382.3,392.0 L383.3,391.9 L384.3,391.8 L385.3,391.8 L386.3,391.7 L387.3,391.6 L388.3,391.6 L389.3,391.5 L390.3,391.4 L391.3,391.4 L392.3,391.3 L393.3,391.2 L394.3,391.1 L395.3,391.0 L396.3,391.0 L397.3,390.9 L398.3,390.8 L399.3,390.7 L400.3,390.6 L401.3,390.6 L402.3,390.5 L403.3,390.4 L404.3,390.3 L405.3,390.2 L406.3,390.1 L407.3,390.0 L408.3,389.9 L409.3,389.8 L410.3,389.7 L411.3,389.7 L412.3,389.6 L413.3,389.5 L414.3,389.4 L415.3,389.3 L416.3,389.2 L417.3,389.1 L418.3,389.0 L419.3,388.9 L420.3,388.7 L421.3,388.6 L422.3,388.5 L423.3,388.4 L424.3,388.3 L425.3,388.2 L426.3,388.1 L427.3,388.0 L428.3,387.9 L429.3,387.8 L430.3,387.7 L431.3,387.5 L432.3,387.4 L433.3,387.3 L434.3,387.2 L435.3,387.1 L436.3,386.9 L437.3,386.8 L438.3,386.7 L439.3,386.6 L440.3,386.5 L441.3,386.3 L442.3,386.2 L443.3,386.1 L444.3,386.0 L445.3,385.8 L446.3,385.7 L447.3,385.6 L448.3,385.4 L449.3,385.3 L450.3,385.2 L451.3,385.0 L452.3,384.9 L453.3,384.8 L454.3,384.6 L455.3,384.5 L456.3,384.4 L457.3,384.2 L458.3,384.1 L459.3,383.9 L460.3,383.8 L461.3,383.7 L462.3,383.5 L463.3,383.4 L464.3,383.2 L465.3,383.1 L466.3,382.9 L467.3,382.8 L468.3,382.6 L469.3,382.5 L470.3,382.3 L471.3,382.2 L472.3,382.0 L473.3,381.9 L474.3,381.7 L475.3,381.6 L476.3,381.4 L477.3,381.3 L478.3,381.1 L479.3,380.9 L480.3,380.8 L481.3,380.6 L482.3,380.5 L483.3,380.3 L484.3,380.1 L485.3,380.0 L486.3,379.8 L487.3,379.7 L488.3,379.5 L489.3,379.3 L490.3,379.2 L491.3,379.0 L492.3,378.8 L493.3,378.7 L494.3,378.5 L495.3,378.3 L496.3,378.1 L497.3,378.0 L498.3,377.8 L499.3,377.6 L500.3,377.5 L501.3,377.3 L502.3,377.1 L503.3,376.9 L504.3,376.8 L505.3,376.6 L506.3,376.4 L507.3,376.2 L508.3,376.0 L509.3,375.9 L510.3,375.7 L511.3,375.5 L512.3,375.3 L513.3,375.1 L514.3,375.0 L515.3,374.8 L516.3,374.6 L517.3,374.4 L518.3,374.2 L519.3,374.0 L520.3,373.8 L521.3,373.6 L522.3,373.5 L523.3,373.3 L524.3,373.1 L525.3,372.9 L526.3,372.7 L527.3,372.5 L528.3,372.3 L529.3,372.1 L530.3,371.9 L531.3,371.7 L532.3,371.5 L533.3,371.3 L534.3,371.1 L535.3,370.9 L536.3,370.8 L537.3,370.6 L538.3,370.4 L539.3,370.2 L540.3,370.0 L541.3,369.8 L542.3,369.6 L543.3,369.4 L544.3,369.1 L545.3,368.9 L546.3,368.7 L547.3,368.5 L548.3,368.3 L549.3,368.1 L550.3,367.9 L551.3,367.7 L552.3,367.5 L553.3,367.3 L554.3,367.1 L555.3,366.9 L556.3,366.7 L557.3,366.5 L558.3,366.3 L559.3,366.0 L560.3,365.8 L561.3,365.6 L562.3,365.4 L563.3,365.2 L564.3,365.0 L565.3,364.8 L566.3,364.6 L567.3,364.3 L568.3,364.1 L569.3,363.9 L570.3,363.7 L571.3,363.5 L572.3,363.3 L573.3,363.0 L574.3,362.8 L575.3,362.6 L576.3,362.4 L577.3,362.2 L578.3,361.9 L579.3,361.7 L580.3,361.5 L581.3,361.3 L582.3,361.1 L583.3,360.8 L584.3,360.6 L585.3,360.4 L586.3,360.2 L587.3,359.9 L588.3,359.7 L589.3,359.5 L590.3,359.3 L591.3,359.0 L592.3,358.8 L593.3,358.6 L594.3,358.4 L595.3,358.1 L596.3,357.9 L597.3,357.7 L598.3,357.4 L599.3,357.2 L600.3,357.0 L601.3,356.8 L602.3,356.5 L603.3,356.3 L604.3,356.1 L605.3,355.8 L606.3,355.6 L607.3,355.4 L608.3,355.1 L609.3,354.9 L610.3,354.7 L611.3,354.4 L612.3,354.2 L613.3,354.0 L614.3,353.7 L615.3,353.5 L616.3,353.2 L617.3,353.0 L618.3,352.8 L619.3,352.5 L620.3,352.3 L621.3,352.1 L622.3,351.8 L623.3,351.6 L624.3,351.3 L625.3,351.1 L626.3,350.9 L627.3,350.6 L628.3,350.4 L629.3,350.1 L630.3,349.9 L631.3,349.6 L632.3,349.4 L633.3,349.2 L634.3,348.9 L635.3,348.7 L636.3,348.4 L637.3,348.2 L638.3,347.9 L639.3,347.7 L640.3,347.4 L641.3,347.2 L642.3,347.0 L643.3,346.7 L644.3,346.5 L645.3,346.2 L646.3,346.0 L647.3,345.7 L648.3,345.5 L649.3,345.2 L650.3,345.0 L651.3,344.7 L652.3,344.5 L653.3,344.2 L654.3,344.0 L655.3,343.7 L656.3,343.5 L657.3,343.2 L658.3,343.0 L659.3,342.7 L660.3,342.5 L661.3,342.2 L662.3,342.0 L663.3,341.7 L664.3,341.5 L665.3,341.2 L666.3,340.9 L667.3,340.7 L668.3,340.4 L669.3,340.2 L670.3,339.9 L671.3,339.7 L672.3,339.4 L673.3,339.2 L674.3,338.9 L675.3,338.7 L676.3,338.4 L677.3,338.1 L678.3,337.9 L679.3,337.6 L680.3,337.4 L681.3,337.1 L682.3,336.9 L683.3,336.6 L684.3,336.3 L685.3,336.1 L686.3,335.8 L687.3,335.6 L688.3,335.3 L689.3,335.0 L690.3,334.8 L691.3,334.5 L692.3,334.3 L693.3,334.0 L694.3,333.7 L695.3,333.5 L696.3,333.2 L697.3,333.0 L698.3,332.7 L699.3,332.4 L700.3,332.2 L701.3,331.9 L702.3,331.7 L703.3,331.4 L704.3,331.1 L705.3,330.9 L706.3,330.6 L707.3,330.3 L708.3,330.1 L709.3,329.8 L710.3,329.6 L711.3,329.3 L712.3,329.0 L713.3,328.8 L714.3,328.5 L715.3,328.2 L716.3,328.0 L717.3,327.7 L718.3,327.4 L719.3,327.2 L720.3,326.9 L721.3,326.6 L722.3,326.4 L723.3,326.1 L724.3,325.9 L725.3,325.6 L726.3,325.3 L727.3,325.1 L728.3,324.8 L729.3,324.5 L730.3,324.3 L731.3,324.0 L732.3,323.7 L733.3,323.5 L734.3,323.2 L735.3,322.9 L736.3,322.7 L737.3,322.4 L738.3,322.1 L739.3,321.9 L740.3,321.6 L741.3,321.3 L742.3,321.1 L743.3,320.8 L744.3,320.5 L745.3,320.3 L745.6,320.2" fill="none" stroke="#2424c8" stroke-width="2.8" stroke-dasharray="11.5 6.6 2.4 6.6" stroke-linejoin="round" clip-path="url(#cIA)"/>
<path d="M1171.9,501.0 L1172.9,500.9 L1173.9,500.9 L1174.9,500.9 L1175.9,500.8 L1176.9,500.8 L1177.9,500.7 L1178.9,500.7 L1179.9,500.6 L1180.9,500.6 L1181.9,500.5 L1182.9,500.5 L1183.9,500.4 L1184.9,500.3 L1185.9,500.3 L1186.9,500.2 L1187.9,500.1 L1188.9,500.0 L1189.9,499.9 L1190.9,499.9 L1191.9,499.8 L1192.9,499.7 L1193.9,499.6 L1194.9,499.5 L1195.9,499.4 L1196.9,499.3 L1197.9,499.2 L1198.9,499.1 L1199.9,499.0 L1200.9,498.9 L1201.9,498.8 L1202.9,498.7 L1203.9,498.5 L1204.9,498.4 L1205.9,498.3 L1206.9,498.2 L1207.9,498.1 L1208.9,497.9 L1209.9,497.8 L1210.9,497.7 L1211.9,497.5 L1212.9,497.4 L1213.9,497.3 L1214.9,497.1 L1215.9,497.0 L1216.9,496.8 L1217.9,496.7 L1218.9,496.5 L1219.9,496.4 L1220.9,496.2 L1221.9,496.1 L1222.9,495.9 L1223.9,495.8 L1224.9,495.6 L1225.9,495.5 L1226.9,495.3 L1227.9,495.1 L1228.9,495.0 L1229.9,494.8 L1230.9,494.6 L1231.9,494.5 L1232.9,494.3 L1233.9,494.1 L1234.9,493.9 L1235.9,493.8 L1236.9,493.6 L1237.9,493.4 L1238.9,493.2 L1239.9,493.1 L1240.9,492.9 L1241.9,492.7 L1242.9,492.5 L1243.9,492.3 L1244.9,492.1 L1245.9,492.0 L1246.9,491.8 L1247.9,491.6 L1248.9,491.4 L1249.9,491.2 L1250.9,491.0 L1251.9,490.8 L1252.9,490.6 L1253.9,490.4 L1254.9,490.2 L1255.9,490.0 L1256.9,489.8 L1257.9,489.6 L1258.9,489.4 L1259.9,489.2 L1260.9,489.0 L1261.9,488.8 L1262.9,488.6 L1263.9,488.4 L1264.9,488.2 L1265.9,488.0 L1266.9,487.8 L1267.9,487.6 L1268.9,487.4 L1269.9,487.2 L1270.9,487.0 L1271.9,486.8 L1272.9,486.6 L1273.9,486.4 L1274.9,486.2 L1275.9,486.0 L1276.9,485.8 L1277.9,485.6 L1278.9,485.4 L1279.9,485.1 L1280.9,484.9 L1281.9,484.7 L1282.9,484.5 L1283.9,484.3 L1284.9,484.1 L1285.9,483.9 L1286.9,483.7 L1287.9,483.5 L1288.9,483.2 L1289.9,483.0 L1290.9,482.8 L1291.9,482.6 L1292.9,482.4 L1293.9,482.2 L1294.9,481.9 L1295.9,481.7 L1296.9,481.5 L1297.9,481.3 L1298.9,481.1 L1299.9,480.9 L1300.9,480.6 L1301.9,480.4 L1302.9,480.2 L1303.9,480.0 L1304.9,479.8 L1305.9,479.5 L1306.9,479.3 L1307.9,479.1 L1308.9,478.9 L1309.9,478.6 L1310.9,478.4 L1311.9,478.2 L1312.9,478.0 L1313.9,477.8 L1314.9,477.5 L1315.9,477.3 L1316.9,477.1 L1317.9,476.9 L1318.9,476.6 L1319.9,476.4 L1320.9,476.2 L1321.9,476.0 L1322.9,475.7 L1323.9,475.5 L1324.9,475.3 L1325.9,475.0 L1326.9,474.8 L1327.9,474.6 L1328.9,474.4 L1329.9,474.1 L1330.9,473.9 L1331.9,473.7 L1332.9,473.4 L1333.9,473.2 L1334.9,473.0 L1335.9,472.7 L1336.9,472.5 L1337.9,472.3 L1338.9,472.0 L1339.9,471.8 L1340.9,471.6 L1341.9,471.4 L1342.9,471.1 L1343.9,470.9 L1344.9,470.7 L1345.9,470.4 L1346.9,470.2 L1347.9,470.0 L1348.9,469.7 L1349.9,469.5 L1350.9,469.2 L1351.9,469.0 L1352.9,468.8 L1353.9,468.5 L1354.9,468.3 L1355.9,468.1 L1356.9,467.8 L1357.9,467.6 L1358.9,467.4 L1359.9,467.1 L1360.9,466.9 L1361.9,466.6 L1362.9,466.4 L1363.9,466.2 L1364.9,465.9 L1365.9,465.7 L1366.9,465.5 L1367.9,465.2 L1368.9,465.0 L1369.9,464.7 L1370.9,464.5 L1371.9,464.3 L1372.9,464.0 L1373.9,463.8 L1374.9,463.5 L1375.9,463.3 L1376.9,463.1 L1377.9,462.8 L1378.9,462.6 L1379.9,462.3 L1380.9,462.1 L1381.9,461.9 L1382.9,461.6 L1383.9,461.4 L1384.9,461.1 L1385.9,460.9 L1386.9,460.7 L1387.9,460.4 L1388.9,460.2 L1389.9,459.9 L1390.9,459.7 L1391.9,459.4 L1392.9,459.2 L1393.9,459.0 L1394.9,458.7 L1395.9,458.5 L1396.9,458.2 L1397.9,458.0 L1398.9,457.7 L1399.9,457.5 L1400.9,457.2 L1401.9,457.0 L1402.9,456.8 L1403.9,456.5 L1404.9,456.3 L1405.9,456.0 L1406.9,455.8 L1407.9,455.5 L1408.9,455.3 L1409.9,455.0 L1410.9,454.8 L1411.9,454.5 L1412.9,454.3 L1413.9,454.0 L1414.9,453.8 L1415.9,453.5 L1416.9,453.3 L1417.9,453.1 L1418.9,452.8 L1419.9,452.6 L1420.9,452.3 L1421.9,452.1 L1422.9,451.8 L1423.9,451.6 L1424.9,451.3 L1425.9,451.1 L1426.9,450.8 L1427.9,450.6 L1428.9,450.3 L1429.9,450.1 L1430.9,449.8 L1431.9,449.6 L1432.9,449.3 L1433.9,449.1 L1434.9,448.8 L1435.9,448.6 L1436.9,448.3 L1437.9,448.1 L1438.9,447.8 L1439.9,447.6 L1440.9,447.3 L1441.9,447.0 L1442.9,446.8 L1443.9,446.5 L1444.9,446.3 L1445.9,446.0 L1446.9,445.8 L1447.9,445.5 L1448.9,445.3 L1449.9,445.0 L1450.9,444.8 L1451.9,444.5 L1452.9,444.3 L1453.9,444.0 L1454.9,443.8 L1455.9,443.5 L1456.9,443.2 L1457.9,443.0 L1458.9,442.7 L1459.9,442.5 L1460.9,442.2 L1461.9,442.0 L1462.9,441.7 L1463.9,441.5 L1464.9,441.2 L1465.9,441.0 L1466.9,440.7 L1467.9,440.4 L1468.9,440.2 L1469.9,439.9 L1470.9,439.7 L1471.9,439.4 L1472.9,439.2 L1473.9,438.9 L1474.9,438.7 L1475.9,438.4 L1476.9,438.2 L1477.9,437.9 L1478.9,437.7 L1479.9,437.4 L1480.9,437.2 L1481.9,436.9 L1482.9,436.7 L1483.9,436.4 L1484.9,436.2 L1485.9,435.9 L1486.9,435.7 L1487.9,435.4 L1488.9,435.2 L1489.9,434.9 L1490.9,434.7 L1491.9,434.4 L1492.9,434.2 L1493.9,433.9 L1494.9,433.7 L1495.9,433.5 L1496.9,433.2 L1497.9,433.0 L1498.9,432.7 L1499.9,432.5 L1500.9,432.2 L1501.9,432.0 L1502.9,431.8 L1503.9,431.5 L1504.9,431.3 L1505.9,431.1 L1506.9,430.8 L1507.9,430.6 L1508.9,430.3 L1509.9,430.1 L1510.9,429.9 L1511.9,429.6 L1512.9,429.4 L1513.9,429.2 L1514.9,429.0 L1515.9,428.7 L1516.9,428.5 L1517.9,428.3 L1518.9,428.1 L1519.9,427.8 L1520.9,427.6 L1521.9,427.4 L1522.9,427.2 L1523.9,426.9 L1524.9,426.7 L1525.9,426.5 L1526.9,426.3 L1527.9,426.1 L1528.9,425.9 L1529.9,425.6 L1530.9,425.4 L1531.9,425.2 L1532.9,425.0 L1533.9,424.8 L1534.9,424.6 L1535.9,424.4 L1536.9,424.2 L1537.9,424.0 L1538.9,423.8 L1539.9,423.6 L1540.9,423.4 L1541.9,423.2 L1542.2,423.1" fill="none" stroke="#121212" stroke-width="2.1" stroke-linejoin="round" clip-path="url(#cIB)"/>
<path d="M1171.9,407.4 L1172.9,407.4 L1173.9,407.3 L1174.9,407.2 L1175.9,407.1 L1176.9,407.0 L1177.9,407.0 L1178.9,406.9 L1179.9,406.8 L1180.9,406.7 L1181.9,406.6 L1182.9,406.5 L1183.9,406.4 L1184.9,406.4 L1185.9,406.3 L1186.9,406.2 L1187.9,406.1 L1188.9,406.0 L1189.9,405.9 L1190.9,405.8 L1191.9,405.7 L1192.9,405.6 L1193.9,405.5 L1194.9,405.4 L1195.9,405.3 L1196.9,405.2 L1197.9,405.0 L1198.9,404.9 L1199.9,404.8 L1200.9,404.7 L1201.9,404.6 L1202.9,404.5 L1203.9,404.4 L1204.9,404.2 L1205.9,404.1 L1206.9,404.0 L1207.9,403.9 L1208.9,403.8 L1209.9,403.6 L1210.9,403.5 L1211.9,403.4 L1212.9,403.3 L1213.9,403.1 L1214.9,403.0 L1215.9,402.9 L1216.9,402.7 L1217.9,402.6 L1218.9,402.5 L1219.9,402.3 L1220.9,402.2 L1221.9,402.0 L1222.9,401.9 L1223.9,401.8 L1224.9,401.6 L1225.9,401.5 L1226.9,401.3 L1227.9,401.2 L1228.9,401.0 L1229.9,400.9 L1230.9,400.7 L1231.9,400.6 L1232.9,400.4 L1233.9,400.3 L1234.9,400.1 L1235.9,400.0 L1236.9,399.8 L1237.9,399.6 L1238.9,399.5 L1239.9,399.3 L1240.9,399.2 L1241.9,399.0 L1242.9,398.8 L1243.9,398.7 L1244.9,398.5 L1245.9,398.3 L1246.9,398.2 L1247.9,398.0 L1248.9,397.8 L1249.9,397.7 L1250.9,397.5 L1251.9,397.3 L1252.9,397.2 L1253.9,397.0 L1254.9,396.8 L1255.9,396.6 L1256.9,396.5 L1257.9,396.3 L1258.9,396.1 L1259.9,395.9 L1260.9,395.7 L1261.9,395.6 L1262.9,395.4 L1263.9,395.2 L1264.9,395.0 L1265.9,394.8 L1266.9,394.6 L1267.9,394.4 L1268.9,394.3 L1269.9,394.1 L1270.9,393.9 L1271.9,393.7 L1272.9,393.5 L1273.9,393.3 L1274.9,393.1 L1275.9,392.9 L1276.9,392.7 L1277.9,392.5 L1278.9,392.3 L1279.9,392.1 L1280.9,391.9 L1281.9,391.7 L1282.9,391.5 L1283.9,391.3 L1284.9,391.1 L1285.9,390.9 L1286.9,390.7 L1287.9,390.5 L1288.9,390.3 L1289.9,390.1 L1290.9,389.9 L1291.9,389.7 L1292.9,389.5 L1293.9,389.3 L1294.9,389.1 L1295.9,388.9 L1296.9,388.7 L1297.9,388.5 L1298.9,388.3 L1299.9,388.1 L1300.9,387.8 L1301.9,387.6 L1302.9,387.4 L1303.9,387.2 L1304.9,387.0 L1305.9,386.8 L1306.9,386.6 L1307.9,386.3 L1308.9,386.1 L1309.9,385.9 L1310.9,385.7 L1311.9,385.5 L1312.9,385.3 L1313.9,385.0 L1314.9,384.8 L1315.9,384.6 L1316.9,384.4 L1317.9,384.2 L1318.9,383.9 L1319.9,383.7 L1320.9,383.5 L1321.9,383.3 L1322.9,383.1 L1323.9,382.8 L1324.9,382.6 L1325.9,382.4 L1326.9,382.2 L1327.9,381.9 L1328.9,381.7 L1329.9,381.5 L1330.9,381.3 L1331.9,381.0 L1332.9,380.8 L1333.9,380.6 L1334.9,380.3 L1335.9,380.1 L1336.9,379.9 L1337.9,379.7 L1338.9,379.4 L1339.9,379.2 L1340.9,379.0 L1341.9,378.7 L1342.9,378.5 L1343.9,378.3 L1344.9,378.0 L1345.9,377.8 L1346.9,377.6 L1347.9,377.3 L1348.9,377.1 L1349.9,376.9 L1350.9,376.6 L1351.9,376.4 L1352.9,376.2 L1353.9,375.9 L1354.9,375.7 L1355.9,375.5 L1356.9,375.2 L1357.9,375.0 L1358.9,374.8 L1359.9,374.5 L1360.9,374.3 L1361.9,374.1 L1362.9,373.8 L1363.9,373.6 L1364.9,373.4 L1365.9,373.1 L1366.9,372.9 L1367.9,372.6 L1368.9,372.4 L1369.9,372.2 L1370.9,371.9 L1371.9,371.7 L1372.9,371.5 L1373.9,371.2 L1374.9,371.0 L1375.9,370.7 L1376.9,370.5 L1377.9,370.3 L1378.9,370.0 L1379.9,369.8 L1380.9,369.5 L1381.9,369.3 L1382.9,369.1 L1383.9,368.8 L1384.9,368.6 L1385.9,368.3 L1386.9,368.1 L1387.9,367.9 L1388.9,367.6 L1389.9,367.4 L1390.9,367.1 L1391.9,366.9 L1392.9,366.7 L1393.9,366.4 L1394.9,366.2 L1395.9,365.9 L1396.9,365.7 L1397.9,365.5 L1398.9,365.2 L1399.9,365.0 L1400.9,364.7 L1401.9,364.5 L1402.9,364.3 L1403.9,364.0 L1404.9,363.8 L1405.9,363.5 L1406.9,363.3 L1407.9,363.0 L1408.9,362.8 L1409.9,362.6 L1410.9,362.3 L1411.9,362.1 L1412.9,361.8 L1413.9,361.6 L1414.9,361.3 L1415.9,361.1 L1416.9,360.9 L1417.9,360.6 L1418.9,360.4 L1419.9,360.1 L1420.9,359.9 L1421.9,359.6 L1422.9,359.4 L1423.9,359.2 L1424.9,358.9 L1425.9,358.7 L1426.9,358.4 L1427.9,358.2 L1428.9,357.9 L1429.9,357.7 L1430.9,357.5 L1431.9,357.2 L1432.9,357.0 L1433.9,356.7 L1434.9,356.5 L1435.9,356.2 L1436.9,356.0 L1437.9,355.8 L1438.9,355.5 L1439.9,355.3 L1440.9,355.0 L1441.9,354.8 L1442.9,354.5 L1443.9,354.3 L1444.9,354.1 L1445.9,353.8 L1446.9,353.6 L1447.9,353.3 L1448.9,353.1 L1449.9,352.8 L1450.9,352.6 L1451.9,352.4 L1452.9,352.1 L1453.9,351.9 L1454.9,351.6 L1455.9,351.4 L1456.9,351.1 L1457.9,350.9 L1458.9,350.7 L1459.9,350.4 L1460.9,350.2 L1461.9,349.9 L1462.9,349.7 L1463.9,349.4 L1464.9,349.2 L1465.9,349.0 L1466.9,348.7 L1467.9,348.5 L1468.9,348.2 L1469.9,348.0 L1470.9,347.8 L1471.9,347.5 L1472.9,347.3 L1473.9,347.0 L1474.9,346.8 L1475.9,346.5 L1476.9,346.3 L1477.9,346.1 L1478.9,345.8 L1479.9,345.6 L1480.9,345.3 L1481.9,345.1 L1482.9,344.9 L1483.9,344.6 L1484.9,344.4 L1485.9,344.1 L1486.9,343.9 L1487.9,343.7 L1488.9,343.4 L1489.9,343.2 L1490.9,342.9 L1491.9,342.7 L1492.9,342.5 L1493.9,342.2 L1494.9,342.0 L1495.9,341.8 L1496.9,341.5 L1497.9,341.3 L1498.9,341.0 L1499.9,340.8 L1500.9,340.6 L1501.9,340.3 L1502.9,340.1 L1503.9,339.9 L1504.9,339.6 L1505.9,339.4 L1506.9,339.1 L1507.9,338.9 L1508.9,338.7 L1509.9,338.4 L1510.9,338.2 L1511.9,338.0 L1512.9,337.7 L1513.9,337.5 L1514.9,337.3 L1515.9,337.0 L1516.9,336.8 L1517.9,336.6 L1518.9,336.3 L1519.9,336.1 L1520.9,335.9 L1521.9,335.6 L1522.9,335.4 L1523.9,335.2 L1524.9,334.9 L1525.9,334.7 L1526.9,334.5 L1527.9,334.2 L1528.9,334.0 L1529.9,333.8 L1530.9,333.5 L1531.9,333.3 L1532.9,333.1 L1533.9,332.9 L1534.9,332.6 L1535.9,332.4 L1536.9,332.2 L1537.9,331.9 L1538.9,331.7 L1539.9,331.5 L1540.9,331.3 L1541.9,331.0 L1542.2,331.0" fill="none" stroke="#d42630" stroke-width="2.8" stroke-dasharray="12 6.2" stroke-linejoin="round" clip-path="url(#cIB)"/>
<path d="M1171.9,398.6 L1172.9,398.6 L1173.9,398.5 L1174.9,398.4 L1175.9,398.4 L1176.9,398.3 L1177.9,398.2 L1178.9,398.1 L1179.9,398.1 L1180.9,398.0 L1181.9,397.9 L1182.9,397.8 L1183.9,397.7 L1184.9,397.7 L1185.9,397.6 L1186.9,397.5 L1187.9,397.4 L1188.9,397.3 L1189.9,397.2 L1190.9,397.1 L1191.9,397.0 L1192.9,396.9 L1193.9,396.8 L1194.9,396.7 L1195.9,396.6 L1196.9,396.5 L1197.9,396.4 L1198.9,396.3 L1199.9,396.2 L1200.9,396.1 L1201.9,396.0 L1202.9,395.9 L1203.9,395.8 L1204.9,395.7 L1205.9,395.5 L1206.9,395.4 L1207.9,395.3 L1208.9,395.2 L1209.9,395.1 L1210.9,395.0 L1211.9,394.8 L1212.9,394.7 L1213.9,394.6 L1214.9,394.4 L1215.9,394.3 L1216.9,394.2 L1217.9,394.1 L1218.9,393.9 L1219.9,393.8 L1220.9,393.7 L1221.9,393.5 L1222.9,393.4 L1223.9,393.2 L1224.9,393.1 L1225.9,393.0 L1226.9,392.8 L1227.9,392.7 L1228.9,392.5 L1229.9,392.4 L1230.9,392.2 L1231.9,392.1 L1232.9,391.9 L1233.9,391.8 L1234.9,391.6 L1235.9,391.5 L1236.9,391.3 L1237.9,391.2 L1238.9,391.0 L1239.9,390.9 L1240.9,390.7 L1241.9,390.5 L1242.9,390.4 L1243.9,390.2 L1244.9,390.0 L1245.9,389.9 L1246.9,389.7 L1247.9,389.5 L1248.9,389.4 L1249.9,389.2 L1250.9,389.0 L1251.9,388.9 L1252.9,388.7 L1253.9,388.5 L1254.9,388.3 L1255.9,388.2 L1256.9,388.0 L1257.9,387.8 L1258.9,387.6 L1259.9,387.5 L1260.9,387.3 L1261.9,387.1 L1262.9,386.9 L1263.9,386.7 L1264.9,386.5 L1265.9,386.4 L1266.9,386.2 L1267.9,386.0 L1268.9,385.8 L1269.9,385.6 L1270.9,385.4 L1271.9,385.2 L1272.9,385.0 L1273.9,384.8 L1274.9,384.6 L1275.9,384.5 L1276.9,384.3 L1277.9,384.1 L1278.9,383.9 L1279.9,383.7 L1280.9,383.5 L1281.9,383.3 L1282.9,383.1 L1283.9,382.9 L1284.9,382.7 L1285.9,382.5 L1286.9,382.3 L1287.9,382.1 L1288.9,381.9 L1289.9,381.6 L1290.9,381.4 L1291.9,381.2 L1292.9,381.0 L1293.9,380.8 L1294.9,380.6 L1295.9,380.4 L1296.9,380.2 L1297.9,380.0 L1298.9,379.8 L1299.9,379.6 L1300.9,379.3 L1301.9,379.1 L1302.9,378.9 L1303.9,378.7 L1304.9,378.5 L1305.9,378.3 L1306.9,378.1 L1307.9,377.8 L1308.9,377.6 L1309.9,377.4 L1310.9,377.2 L1311.9,377.0 L1312.9,376.7 L1313.9,376.5 L1314.9,376.3 L1315.9,376.1 L1316.9,375.8 L1317.9,375.6 L1318.9,375.4 L1319.9,375.2 L1320.9,375.0 L1321.9,374.7 L1322.9,374.5 L1323.9,374.3 L1324.9,374.0 L1325.9,373.8 L1326.9,373.6 L1327.9,373.4 L1328.9,373.1 L1329.9,372.9 L1330.9,372.7 L1331.9,372.4 L1332.9,372.2 L1333.9,372.0 L1334.9,371.8 L1335.9,371.5 L1336.9,371.3 L1337.9,371.1 L1338.9,370.8 L1339.9,370.6 L1340.9,370.4 L1341.9,370.1 L1342.9,369.9 L1343.9,369.7 L1344.9,369.4 L1345.9,369.2 L1346.9,369.0 L1347.9,368.7 L1348.9,368.5 L1349.9,368.3 L1350.9,368.0 L1351.9,367.8 L1352.9,367.5 L1353.9,367.3 L1354.9,367.1 L1355.9,366.8 L1356.9,366.6 L1357.9,366.4 L1358.9,366.1 L1359.9,365.9 L1360.9,365.6 L1361.9,365.4 L1362.9,365.2 L1363.9,364.9 L1364.9,364.7 L1365.9,364.4 L1366.9,364.2 L1367.9,364.0 L1368.9,363.7 L1369.9,363.5 L1370.9,363.2 L1371.9,363.0 L1372.9,362.8 L1373.9,362.5 L1374.9,362.3 L1375.9,362.0 L1376.9,361.8 L1377.9,361.6 L1378.9,361.3 L1379.9,361.1 L1380.9,360.8 L1381.9,360.6 L1382.9,360.3 L1383.9,360.1 L1384.9,359.8 L1385.9,359.6 L1386.9,359.4 L1387.9,359.1 L1388.9,358.9 L1389.9,358.6 L1390.9,358.4 L1391.9,358.1 L1392.9,357.9 L1393.9,357.7 L1394.9,357.4 L1395.9,357.2 L1396.9,356.9 L1397.9,356.7 L1398.9,356.4 L1399.9,356.2 L1400.9,355.9 L1401.9,355.7 L1402.9,355.4 L1403.9,355.2 L1404.9,354.9 L1405.9,354.7 L1406.9,354.5 L1407.9,354.2 L1408.9,354.0 L1409.9,353.7 L1410.9,353.5 L1411.9,353.2 L1412.9,353.0 L1413.9,352.7 L1414.9,352.5 L1415.9,352.2 L1416.9,352.0 L1417.9,351.7 L1418.9,351.5 L1419.9,351.2 L1420.9,351.0 L1421.9,350.7 L1422.9,350.5 L1423.9,350.2 L1424.9,350.0 L1425.9,349.7 L1426.9,349.5 L1427.9,349.2 L1428.9,349.0 L1429.9,348.7 L1430.9,348.5 L1431.9,348.2 L1432.9,348.0 L1433.9,347.8 L1434.9,347.5 L1435.9,347.3 L1436.9,347.0 L1437.9,346.8 L1438.9,346.5 L1439.9,346.3 L1440.9,346.0 L1441.9,345.8 L1442.9,345.5 L1443.9,345.3 L1444.9,345.0 L1445.9,344.8 L1446.9,344.5 L1447.9,344.3 L1448.9,344.0 L1449.9,343.8 L1450.9,343.5 L1451.9,343.3 L1452.9,343.0 L1453.9,342.8 L1454.9,342.5 L1455.9,342.3 L1456.9,342.0 L1457.9,341.7 L1458.9,341.5 L1459.9,341.2 L1460.9,341.0 L1461.9,340.7 L1462.9,340.5 L1463.9,340.2 L1464.9,340.0 L1465.9,339.7 L1466.9,339.5 L1467.9,339.2 L1468.9,339.0 L1469.9,338.7 L1470.9,338.5 L1471.9,338.2 L1472.9,338.0 L1473.9,337.7 L1474.9,337.5 L1475.9,337.2 L1476.9,337.0 L1477.9,336.7 L1478.9,336.5 L1479.9,336.2 L1480.9,336.0 L1481.9,335.7 L1482.9,335.5 L1483.9,335.2 L1484.9,335.0 L1485.9,334.7 L1486.9,334.5 L1487.9,334.2 L1488.9,334.0 L1489.9,333.7 L1490.9,333.5 L1491.9,333.2 L1492.9,333.0 L1493.9,332.7 L1494.9,332.5 L1495.9,332.2 L1496.9,332.0 L1497.9,331.7 L1498.9,331.5 L1499.9,331.2 L1500.9,331.0 L1501.9,330.8 L1502.9,330.5 L1503.9,330.3 L1504.9,330.0 L1505.9,329.8 L1506.9,329.5 L1507.9,329.3 L1508.9,329.0 L1509.9,328.8 L1510.9,328.5 L1511.9,328.3 L1512.9,328.0 L1513.9,327.8 L1514.9,327.5 L1515.9,327.3 L1516.9,327.0 L1517.9,326.8 L1518.9,326.5 L1519.9,326.3 L1520.9,326.0 L1521.9,325.8 L1522.9,325.5 L1523.9,325.3 L1524.9,325.1 L1525.9,324.8 L1526.9,324.6 L1527.9,324.3 L1528.9,324.1 L1529.9,323.8 L1530.9,323.6 L1531.9,323.3 L1532.9,323.1 L1533.9,322.8 L1534.9,322.6 L1535.9,322.4 L1536.9,322.1 L1537.9,321.9 L1538.9,321.6 L1539.9,321.4 L1540.9,321.1 L1541.9,320.9 L1542.2,320.8" fill="none" stroke="#2424c8" stroke-width="2.8" stroke-dasharray="11.5 6.6 2.4 6.6" stroke-linejoin="round" clip-path="url(#cIB)"/>
<path d="M395.87,513.30v-3 M395.87,310.20v3 M416.44,513.30v-3 M416.44,310.20v3 M437.02,513.30v-3 M437.02,310.20v3 M457.59,513.30v-3 M457.59,310.20v3 M478.16,513.30v-3 M478.16,310.20v3 M498.73,513.30v-6 M498.73,310.20v6 M519.31,513.30v-3 M519.31,310.20v3 M539.88,513.30v-3 M539.88,310.20v3 M560.45,513.30v-3 M560.45,310.20v3 M581.02,513.30v-3 M581.02,310.20v3 M601.59,513.30v-3 M601.59,310.20v3 M622.17,513.30v-6 M622.17,310.20v6 M642.74,513.30v-3 M642.74,310.20v3 M663.31,513.30v-3 M663.31,310.20v3 M683.88,513.30v-3 M683.88,310.20v3 M704.46,513.30v-3 M704.46,310.20v3 M725.03,513.30v-3 M725.03,310.20v3 M375.30,515.43h3 M745.60,515.43h-3 M375.30,505.15h3 M745.60,505.15h-3 M375.30,494.88h3 M745.60,494.88h-3 M375.30,484.60h6 M745.60,484.60h-6 M375.30,474.33h3 M745.60,474.33h-3 M375.30,464.05h3 M745.60,464.05h-3 M375.30,453.78h3 M745.60,453.78h-3 M375.30,443.50h6 M745.60,443.50h-6 M375.30,433.22h3 M745.60,433.22h-3 M375.30,422.95h3 M745.60,422.95h-3 M375.30,412.68h3 M745.60,412.68h-3 M375.30,402.40h6 M745.60,402.40h-6 M375.30,392.12h3 M745.60,392.12h-3 M375.30,381.85h3 M745.60,381.85h-3 M375.30,371.58h3 M745.60,371.58h-3 M375.30,361.30h6 M745.60,361.30h-6 M375.30,351.02h3 M745.60,351.02h-3 M375.30,340.75h3 M745.60,340.75h-3 M375.30,330.47h3 M745.60,330.47h-3 M375.30,320.20h6 M745.60,320.20h-6" stroke="#1a1a1a" stroke-width="2.29" fill="none"/>
<rect x="375.3" y="310.2" width="370.30" height="203.10" fill="none" stroke="#1a1a1a" stroke-width="2.7"/>
<path d="M1192.47,511.40v-3 M1192.47,308.90v3 M1213.04,511.40v-3 M1213.04,308.90v3 M1233.62,511.40v-3 M1233.62,308.90v3 M1254.19,511.40v-3 M1254.19,308.90v3 M1274.76,511.40v-3 M1274.76,308.90v3 M1295.33,511.40v-6 M1295.33,308.90v6 M1315.91,511.40v-3 M1315.91,308.90v3 M1336.48,511.40v-3 M1336.48,308.90v3 M1357.05,511.40v-3 M1357.05,308.90v3 M1377.62,511.40v-3 M1377.62,308.90v3 M1398.19,511.40v-3 M1398.19,308.90v3 M1418.77,511.40v-6 M1418.77,308.90v6 M1439.34,511.40v-3 M1439.34,308.90v3 M1459.91,511.40v-3 M1459.91,308.90v3 M1480.48,511.40v-3 M1480.48,308.90v3 M1501.06,511.40v-3 M1501.06,308.90v3 M1521.63,511.40v-3 M1521.63,308.90v3 M1171.90,499.46h3 M1542.20,499.46h-3 M1171.90,487.51h3 M1542.20,487.51h-3 M1171.90,475.57h3 M1542.20,475.57h-3 M1171.90,463.62h6 M1542.20,463.62h-6 M1171.90,451.68h3 M1542.20,451.68h-3 M1171.90,439.74h3 M1542.20,439.74h-3 M1171.90,427.79h3 M1542.20,427.79h-3 M1171.90,415.85h6 M1542.20,415.85h-6 M1171.90,403.91h3 M1542.20,403.91h-3 M1171.90,391.96h3 M1542.20,391.96h-3 M1171.90,380.02h3 M1542.20,380.02h-3 M1171.90,368.07h6 M1542.20,368.07h-6 M1171.90,356.13h3 M1542.20,356.13h-3 M1171.90,344.19h3 M1542.20,344.19h-3 M1171.90,332.24h3 M1542.20,332.24h-3 M1171.90,320.30h6 M1542.20,320.30h-6" stroke="#1a1a1a" stroke-width="2.29" fill="none"/>
<rect x="1171.9" y="308.9" width="370.30" height="202.50" fill="none" stroke="#1a1a1a" stroke-width="2.7"/>
<path d="M111.80,557.30v-3.2 M111.80,62.80v3.2 M126.91,557.30v-3.2 M126.91,62.80v3.2 M142.01,557.30v-3.2 M142.01,62.80v3.2 M157.12,557.30v-3.2 M157.12,62.80v3.2 M172.22,557.30v-6.5 M172.22,62.80v6.5 M187.33,557.30v-3.2 M187.33,62.80v3.2 M202.43,557.30v-3.2 M202.43,62.80v3.2 M217.54,557.30v-3.2 M217.54,62.80v3.2 M232.64,557.30v-3.2 M232.64,62.80v3.2 M247.74,557.30v-6.5 M247.74,62.80v6.5 M262.85,557.30v-3.2 M262.85,62.80v3.2 M277.95,557.30v-3.2 M277.95,62.80v3.2 M293.06,557.30v-3.2 M293.06,62.80v3.2 M308.16,557.30v-3.2 M308.16,62.80v3.2 M323.27,557.30v-6.5 M323.27,62.80v6.5 M338.37,557.30v-3.2 M338.37,62.80v3.2 M353.48,557.30v-3.2 M353.48,62.80v3.2 M368.58,557.30v-3.2 M368.58,62.80v3.2 M383.68,557.30v-3.2 M383.68,62.80v3.2 M398.79,557.30v-6.5 M398.79,62.80v6.5 M413.89,557.30v-3.2 M413.89,62.80v3.2 M429.00,557.30v-3.2 M429.00,62.80v3.2 M444.10,557.30v-3.2 M444.10,62.80v3.2 M459.21,557.30v-3.2 M459.21,62.80v3.2 M474.31,557.30v-6.5 M474.31,62.80v6.5 M489.42,557.30v-3.2 M489.42,62.80v3.2 M504.52,557.30v-3.2 M504.52,62.80v3.2 M519.62,557.30v-3.2 M519.62,62.80v3.2 M534.73,557.30v-3.2 M534.73,62.80v3.2 M549.83,557.30v-6.5 M549.83,62.80v6.5 M564.94,557.30v-3.2 M564.94,62.80v3.2 M580.04,557.30v-3.2 M580.04,62.80v3.2 M595.15,557.30v-3.2 M595.15,62.80v3.2 M610.25,557.30v-3.2 M610.25,62.80v3.2 M625.36,557.30v-6.5 M625.36,62.80v6.5 M640.46,557.30v-3.2 M640.46,62.80v3.2 M655.56,557.30v-3.2 M655.56,62.80v3.2 M670.67,557.30v-3.2 M670.67,62.80v3.2 M685.77,557.30v-3.2 M685.77,62.80v3.2 M700.88,557.30v-6.5 M700.88,62.80v6.5 M715.98,557.30v-3.2 M715.98,62.80v3.2 M731.09,557.30v-3.2 M731.09,62.80v3.2 M746.19,557.30v-3.2 M746.19,62.80v3.2 M761.30,557.30v-3.2 M761.30,62.80v3.2 M96.90,549.56h3.2 M776.20,549.56h-3.2 M96.90,542.52h3.2 M776.20,542.52h-3.2 M96.90,535.48h3.2 M776.20,535.48h-3.2 M96.90,528.44h3.2 M776.20,528.44h-3.2 M96.90,521.40h3.2 M776.20,521.40h-3.2 M96.90,514.36h3.2 M776.20,514.36h-3.2 M96.90,507.32h3.2 M776.20,507.32h-3.2 M96.90,500.28h3.2 M776.20,500.28h-3.2 M96.90,493.24h3.2 M776.20,493.24h-3.2 M96.90,486.20h6.5 M776.20,486.20h-6.5 M96.90,479.16h3.2 M776.20,479.16h-3.2 M96.90,472.12h3.2 M776.20,472.12h-3.2 M96.90,465.08h3.2 M776.20,465.08h-3.2 M96.90,458.04h3.2 M776.20,458.04h-3.2 M96.90,451.00h3.2 M776.20,451.00h-3.2 M96.90,443.96h3.2 M776.20,443.96h-3.2 M96.90,436.92h3.2 M776.20,436.92h-3.2 M96.90,429.88h3.2 M776.20,429.88h-3.2 M96.90,422.84h3.2 M776.20,422.84h-3.2 M96.90,415.80h6.5 M776.20,415.80h-6.5 M96.90,408.76h3.2 M776.20,408.76h-3.2 M96.90,401.72h3.2 M776.20,401.72h-3.2 M96.90,394.68h3.2 M776.20,394.68h-3.2 M96.90,387.64h3.2 M776.20,387.64h-3.2 M96.90,380.60h3.2 M776.20,380.60h-3.2 M96.90,373.56h3.2 M776.20,373.56h-3.2 M96.90,366.52h3.2 M776.20,366.52h-3.2 M96.90,359.48h3.2 M776.20,359.48h-3.2 M96.90,352.44h3.2 M776.20,352.44h-3.2 M96.90,345.40h6.5 M776.20,345.40h-6.5 M96.90,338.36h3.2 M776.20,338.36h-3.2 M96.90,331.32h3.2 M776.20,331.32h-3.2 M96.90,324.28h3.2 M776.20,324.28h-3.2 M96.90,317.24h3.2 M776.20,317.24h-3.2 M96.90,310.20h3.2 M776.20,310.20h-3.2 M96.90,303.16h3.2 M776.20,303.16h-3.2 M96.90,296.12h3.2 M776.20,296.12h-3.2 M96.90,289.08h3.2 M776.20,289.08h-3.2 M96.90,282.04h3.2 M776.20,282.04h-3.2 M96.90,275.00h6.5 M776.20,275.00h-6.5 M96.90,267.96h3.2 M776.20,267.96h-3.2 M96.90,260.92h3.2 M776.20,260.92h-3.2 M96.90,253.88h3.2 M776.20,253.88h-3.2 M96.90,246.84h3.2 M776.20,246.84h-3.2 M96.90,239.80h3.2 M776.20,239.80h-3.2 M96.90,232.76h3.2 M776.20,232.76h-3.2 M96.90,225.72h3.2 M776.20,225.72h-3.2 M96.90,218.68h3.2 M776.20,218.68h-3.2 M96.90,211.64h3.2 M776.20,211.64h-3.2 M96.90,204.60h6.5 M776.20,204.60h-6.5 M96.90,197.56h3.2 M776.20,197.56h-3.2 M96.90,190.52h3.2 M776.20,190.52h-3.2 M96.90,183.48h3.2 M776.20,183.48h-3.2 M96.90,176.44h3.2 M776.20,176.44h-3.2 M96.90,169.40h3.2 M776.20,169.40h-3.2 M96.90,162.36h3.2 M776.20,162.36h-3.2 M96.90,155.32h3.2 M776.20,155.32h-3.2 M96.90,148.28h3.2 M776.20,148.28h-3.2 M96.90,141.24h3.2 M776.20,141.24h-3.2 M96.90,134.20h6.5 M776.20,134.20h-6.5 M96.90,127.16h3.2 M776.20,127.16h-3.2 M96.90,120.12h3.2 M776.20,120.12h-3.2 M96.90,113.08h3.2 M776.20,113.08h-3.2 M96.90,106.04h3.2 M776.20,106.04h-3.2 M96.90,99.00h3.2 M776.20,99.00h-3.2 M96.90,91.96h3.2 M776.20,91.96h-3.2 M96.90,84.92h3.2 M776.20,84.92h-3.2 M96.90,77.88h3.2 M776.20,77.88h-3.2 M96.90,70.84h3.2 M776.20,70.84h-3.2" stroke="#1a1a1a" stroke-width="2.72" fill="none"/>
<rect x="96.9" y="62.8" width="679.30" height="494.50" fill="none" stroke="#1a1a1a" stroke-width="3.2"/>
<path d="M908.22,554.50v-3.2 M908.22,62.40v3.2 M923.34,554.50v-3.2 M923.34,62.40v3.2 M938.46,554.50v-3.2 M938.46,62.40v3.2 M953.58,554.50v-3.2 M953.58,62.40v3.2 M968.70,554.50v-6.5 M968.70,62.40v6.5 M983.82,554.50v-3.2 M983.82,62.40v3.2 M998.94,554.50v-3.2 M998.94,62.40v3.2 M1014.06,554.50v-3.2 M1014.06,62.40v3.2 M1029.18,554.50v-3.2 M1029.18,62.40v3.2 M1044.30,554.50v-6.5 M1044.30,62.40v6.5 M1059.42,554.50v-3.2 M1059.42,62.40v3.2 M1074.54,554.50v-3.2 M1074.54,62.40v3.2 M1089.66,554.50v-3.2 M1089.66,62.40v3.2 M1104.78,554.50v-3.2 M1104.78,62.40v3.2 M1119.90,554.50v-6.5 M1119.90,62.40v6.5 M1135.02,554.50v-3.2 M1135.02,62.40v3.2 M1150.14,554.50v-3.2 M1150.14,62.40v3.2 M1165.26,554.50v-3.2 M1165.26,62.40v3.2 M1180.38,554.50v-3.2 M1180.38,62.40v3.2 M1195.50,554.50v-6.5 M1195.50,62.40v6.5 M1210.62,554.50v-3.2 M1210.62,62.40v3.2 M1225.74,554.50v-3.2 M1225.74,62.40v3.2 M1240.86,554.50v-3.2 M1240.86,62.40v3.2 M1255.98,554.50v-3.2 M1255.98,62.40v3.2 M1271.10,554.50v-6.5 M1271.10,62.40v6.5 M1286.22,554.50v-3.2 M1286.22,62.40v3.2 M1301.34,554.50v-3.2 M1301.34,62.40v3.2 M1316.46,554.50v-3.2 M1316.46,62.40v3.2 M1331.58,554.50v-3.2 M1331.58,62.40v3.2 M1346.70,554.50v-6.5 M1346.70,62.40v6.5 M1361.82,554.50v-3.2 M1361.82,62.40v3.2 M1376.94,554.50v-3.2 M1376.94,62.40v3.2 M1392.06,554.50v-3.2 M1392.06,62.40v3.2 M1407.18,554.50v-3.2 M1407.18,62.40v3.2 M1422.30,554.50v-6.5 M1422.30,62.40v6.5 M1437.42,554.50v-3.2 M1437.42,62.40v3.2 M1452.54,554.50v-3.2 M1452.54,62.40v3.2 M1467.66,554.50v-3.2 M1467.66,62.40v3.2 M1482.78,554.50v-3.2 M1482.78,62.40v3.2 M1497.90,554.50v-6.5 M1497.90,62.40v6.5 M1513.02,554.50v-3.2 M1513.02,62.40v3.2 M1528.14,554.50v-3.2 M1528.14,62.40v3.2 M1543.26,554.50v-3.2 M1543.26,62.40v3.2 M1558.38,554.50v-3.2 M1558.38,62.40v3.2 M893.10,546.40h3.2 M1573.50,546.40h-3.2 M893.10,538.20h3.2 M1573.50,538.20h-3.2 M893.10,530.00h3.2 M1573.50,530.00h-3.2 M893.10,521.80h3.2 M1573.50,521.80h-3.2 M893.10,513.60h3.2 M1573.50,513.60h-3.2 M893.10,505.40h3.2 M1573.50,505.40h-3.2 M893.10,497.20h3.2 M1573.50,497.20h-3.2 M893.10,489.00h3.2 M1573.50,489.00h-3.2 M893.10,480.80h3.2 M1573.50,480.80h-3.2 M893.10,472.60h6.5 M1573.50,472.60h-6.5 M893.10,464.40h3.2 M1573.50,464.40h-3.2 M893.10,456.20h3.2 M1573.50,456.20h-3.2 M893.10,448.00h3.2 M1573.50,448.00h-3.2 M893.10,439.80h3.2 M1573.50,439.80h-3.2 M893.10,431.60h3.2 M1573.50,431.60h-3.2 M893.10,423.40h3.2 M1573.50,423.40h-3.2 M893.10,415.20h3.2 M1573.50,415.20h-3.2 M893.10,407.00h3.2 M1573.50,407.00h-3.2 M893.10,398.80h3.2 M1573.50,398.80h-3.2 M893.10,390.60h6.5 M1573.50,390.60h-6.5 M893.10,382.40h3.2 M1573.50,382.40h-3.2 M893.10,374.20h3.2 M1573.50,374.20h-3.2 M893.10,366.00h3.2 M1573.50,366.00h-3.2 M893.10,357.80h3.2 M1573.50,357.80h-3.2 M893.10,349.60h3.2 M1573.50,349.60h-3.2 M893.10,341.40h3.2 M1573.50,341.40h-3.2 M893.10,333.20h3.2 M1573.50,333.20h-3.2 M893.10,325.00h3.2 M1573.50,325.00h-3.2 M893.10,316.80h3.2 M1573.50,316.80h-3.2 M893.10,308.60h6.5 M1573.50,308.60h-6.5 M893.10,300.40h3.2 M1573.50,300.40h-3.2 M893.10,292.20h3.2 M1573.50,292.20h-3.2 M893.10,284.00h3.2 M1573.50,284.00h-3.2 M893.10,275.80h3.2 M1573.50,275.80h-3.2 M893.10,267.60h3.2 M1573.50,267.60h-3.2 M893.10,259.40h3.2 M1573.50,259.40h-3.2 M893.10,251.20h3.2 M1573.50,251.20h-3.2 M893.10,243.00h3.2 M1573.50,243.00h-3.2 M893.10,234.80h3.2 M1573.50,234.80h-3.2 M893.10,226.60h6.5 M1573.50,226.60h-6.5 M893.10,218.40h3.2 M1573.50,218.40h-3.2 M893.10,210.20h3.2 M1573.50,210.20h-3.2 M893.10,202.00h3.2 M1573.50,202.00h-3.2 M893.10,193.80h3.2 M1573.50,193.80h-3.2 M893.10,185.60h3.2 M1573.50,185.60h-3.2 M893.10,177.40h3.2 M1573.50,177.40h-3.2 M893.10,169.20h3.2 M1573.50,169.20h-3.2 M893.10,161.00h3.2 M1573.50,161.00h-3.2 M893.10,152.80h3.2 M1573.50,152.80h-3.2 M893.10,144.60h6.5 M1573.50,144.60h-6.5 M893.10,136.40h3.2 M1573.50,136.40h-3.2 M893.10,128.20h3.2 M1573.50,128.20h-3.2 M893.10,120.00h3.2 M1573.50,120.00h-3.2 M893.10,111.80h3.2 M1573.50,111.80h-3.2 M893.10,103.60h3.2 M1573.50,103.60h-3.2 M893.10,95.40h3.2 M1573.50,95.40h-3.2 M893.10,87.20h3.2 M1573.50,87.20h-3.2 M893.10,79.00h3.2 M1573.50,79.00h-3.2 M893.10,70.80h3.2 M1573.50,70.80h-3.2" stroke="#1a1a1a" stroke-width="2.72" fill="none"/>
<rect x="893.1" y="62.4" width="680.40" height="492.10" fill="none" stroke="#1a1a1a" stroke-width="3.2"/>
<rect x="109.0" y="75.9" width="191.70" height="115.00" fill="#fff" stroke="#1a1a1a" stroke-width="2.9"/>
<path d="M115.7,96.4H178.6" stroke="#121212" stroke-width="3.1" fill="none"/>
<text x="192.0" y="100.8" font-size="25" textLength="88.0" lengthAdjust="spacingAndGlyphs">Cu<tspan font-size="16.5" dy="9.5">3</tspan><tspan dy="-9.5">VS</tspan><tspan font-size="16.5" dy="9.5">4</tspan></text>
<path d="M115.7,133.1H178.6" stroke="#d42630" stroke-width="3.0" stroke-dasharray="12 6.2" stroke-dashoffset="0" fill="none"/>
<text x="192.0" y="136.6" font-size="25" textLength="102.5" lengthAdjust="spacingAndGlyphs">Cu<tspan font-size="16.5" dy="9.5">3</tspan><tspan dy="-9.5">NbS</tspan><tspan font-size="16.5" dy="9.5">4</tspan></text>
<path d="M115.7,169.2H178.6" stroke="#2424c8" stroke-width="3.0" stroke-dasharray="11.5 6.6 2.4 6.6" stroke-dashoffset="18.1" fill="none"/>
<text x="192.0" y="173.0" font-size="25" textLength="101.5" lengthAdjust="spacingAndGlyphs">Cu<tspan font-size="16.5" dy="9.5">3</tspan><tspan dy="-9.5">TaS</tspan><tspan font-size="16.5" dy="9.5">4</tspan></text>
<rect x="905.9" y="74.5" width="205.10" height="115.00" fill="#fff" stroke="#1a1a1a" stroke-width="2.9"/>
<path d="M912.8,95.2H974.8" stroke="#121212" stroke-width="3.1" fill="none"/>
<text x="987.3" y="100.8" font-size="25" textLength="102.5" lengthAdjust="spacingAndGlyphs">Cu<tspan font-size="16.5" dy="9.5">3</tspan><tspan dy="-9.5">VSe</tspan><tspan font-size="16.5" dy="9.5">4</tspan></text>
<path d="M912.8,131.7H974.8" stroke="#d42630" stroke-width="3.0" stroke-dasharray="12 6.2" stroke-dashoffset="0" fill="none"/>
<text x="987.3" y="136.6" font-size="25" textLength="118.5" lengthAdjust="spacingAndGlyphs">Cu<tspan font-size="16.5" dy="9.5">3</tspan><tspan dy="-9.5">NbSe</tspan><tspan font-size="16.5" dy="9.5">4</tspan></text>
<path d="M912.8,168.0H974.8" stroke="#2424c8" stroke-width="3.0" stroke-dasharray="11.5 6.6 2.4 6.6" stroke-dashoffset="18.1" fill="none"/>
<text x="987.3" y="173.0" font-size="25" textLength="116.0" lengthAdjust="spacingAndGlyphs">Cu<tspan font-size="16.5" dy="9.5">3</tspan><tspan dy="-9.5">TaSe</tspan><tspan font-size="16.5" dy="9.5">4</tspan></text>
<text x="91.60" y="565.50" font-size="24.4" text-anchor="end">0</text>
<text x="91.60" y="495.10" font-size="24.4" text-anchor="end">1</text>
<text x="91.60" y="424.70" font-size="24.4" text-anchor="end">2</text>
<text x="91.60" y="354.30" font-size="24.4" text-anchor="end">3</text>
<text x="91.60" y="283.90" font-size="24.4" text-anchor="end">4</text>
<text x="91.60" y="213.50" font-size="24.4" text-anchor="end">5</text>
<text x="91.60" y="143.10" font-size="24.4" text-anchor="end">6</text>
<text x="91.60" y="72.70" font-size="24.4" text-anchor="end">7</text>
<text x="96.70" y="585.40" font-size="24.4" text-anchor="middle">0</text>
<text x="172.22" y="585.40" font-size="24.4" text-anchor="middle">100</text>
<text x="247.74" y="585.40" font-size="24.4" text-anchor="middle">200</text>
<text x="323.27" y="585.40" font-size="24.4" text-anchor="middle">300</text>
<text x="398.79" y="585.40" font-size="24.4" text-anchor="middle">400</text>
<text x="474.31" y="585.40" font-size="24.4" text-anchor="middle">500</text>
<text x="549.83" y="585.40" font-size="24.4" text-anchor="middle">600</text>
<text x="625.36" y="585.40" font-size="24.4" text-anchor="middle">700</text>
<text x="700.88" y="585.40" font-size="24.4" text-anchor="middle">800</text>
<text x="776.40" y="585.40" font-size="24.4" text-anchor="middle">900</text>
<text x="885.50" y="563.50" font-size="24.4" text-anchor="end">0</text>
<text x="885.50" y="481.50" font-size="24.4" text-anchor="end">1</text>
<text x="885.50" y="399.50" font-size="24.4" text-anchor="end">2</text>
<text x="885.50" y="317.50" font-size="24.4" text-anchor="end">3</text>
<text x="885.50" y="235.50" font-size="24.4" text-anchor="end">4</text>
<text x="885.50" y="153.50" font-size="24.4" text-anchor="end">5</text>
<text x="885.50" y="71.50" font-size="24.4" text-anchor="end">6</text>
<text x="893.10" y="580.40" font-size="24.4" text-anchor="middle">0</text>
<text x="968.70" y="580.40" font-size="24.4" text-anchor="middle">100</text>
<text x="1044.30" y="580.40" font-size="24.4" text-anchor="middle">200</text>
<text x="1119.90" y="580.40" font-size="24.4" text-anchor="middle">300</text>
<text x="1195.50" y="580.40" font-size="24.4" text-anchor="middle">400</text>
<text x="1271.10" y="580.40" font-size="24.4" text-anchor="middle">500</text>
<text x="1346.70" y="580.40" font-size="24.4" text-anchor="middle">600</text>
<text x="1422.30" y="580.40" font-size="24.4" text-anchor="middle">700</text>
<text x="1497.90" y="580.40" font-size="24.4" text-anchor="middle">800</text>
<text x="1573.50" y="580.40" font-size="24.4" text-anchor="middle">900</text>
<text x="368.60" y="492.60" font-size="24.4" text-anchor="end">5.36</text>
<text x="368.60" y="451.50" font-size="24.4" text-anchor="end">5.4</text>
<text x="368.60" y="410.40" font-size="24.4" text-anchor="end">5.44</text>
<text x="368.60" y="369.30" font-size="24.4" text-anchor="end">5.48</text>
<text x="368.60" y="328.20" font-size="24.4" text-anchor="end">5.52</text>
<text x="375.30" y="537.60" font-size="24.4" text-anchor="middle">0</text>
<text x="498.73" y="537.60" font-size="24.4" text-anchor="middle">300</text>
<text x="622.17" y="537.60" font-size="24.4" text-anchor="middle">600</text>
<text x="745.60" y="537.60" font-size="24.4" text-anchor="middle">900</text>
<text x="1165.30" y="519.40" font-size="24.4" text-anchor="end">5.52</text>
<text x="1165.30" y="471.62" font-size="24.4" text-anchor="end">5.56</text>
<text x="1165.30" y="423.85" font-size="24.4" text-anchor="end">5.6</text>
<text x="1165.30" y="376.07" font-size="24.4" text-anchor="end">5.64</text>
<text x="1165.30" y="328.30" font-size="24.4" text-anchor="end">5.68</text>
<text x="1171.90" y="535.00" font-size="24.4" text-anchor="middle">0</text>
<text x="1295.33" y="535.00" font-size="24.4" text-anchor="middle">300</text>
<text x="1418.77" y="535.00" font-size="24.4" text-anchor="middle">600</text>
<text x="1542.20" y="535.00" font-size="24.4" text-anchor="middle">900</text>
<text x="337.3" y="624.6" font-size="25" textLength="199" lengthAdjust="spacingAndGlyphs">Temperature (K)</text>
<text x="1132.5" y="618.4" font-size="25" textLength="198" lengthAdjust="spacingAndGlyphs">Temperature (K)</text>
<g transform="translate(43.6,381.5) rotate(-90)"><text><tspan x="-0.44" y="0" font-size="24">α</tspan><tspan x="16.30" y="10.0" font-size="16.5">V</tspan><tspan x="35.96" y="0" font-size="24">(</tspan><tspan x="45.48" y="0" font-size="24">1</tspan><tspan x="58.93" y="0" font-size="25.5">0</tspan><tspan x="75.51" y="-16.2" font-size="18">-</tspan><tspan x="83.11" y="-16.2" font-size="18.5">5</tspan><tspan x="100.10" y="0" font-size="24">K</tspan><tspan x="119.25" y="-16.2" font-size="17">-</tspan><tspan x="124.35" y="-16.2" font-size="17">1</tspan><tspan x="138.57" y="0" font-size="24">)</tspan></text></g>
<g transform="translate(844.2,380.3) rotate(-90)"><text><tspan x="-0.44" y="0" font-size="24">α</tspan><tspan x="16.30" y="10.0" font-size="16.5">V</tspan><tspan x="35.96" y="0" font-size="24">(</tspan><tspan x="45.48" y="0" font-size="24">1</tspan><tspan x="58.93" y="0" font-size="25.5">0</tspan><tspan x="75.51" y="-16.2" font-size="18">-</tspan><tspan x="83.11" y="-16.2" font-size="18.5">5</tspan><tspan x="100.10" y="0" font-size="24">K</tspan><tspan x="119.25" y="-16.2" font-size="17">-</tspan><tspan x="124.35" y="-16.2" font-size="17">1</tspan><tspan x="138.57" y="0" font-size="24">)</tspan></text></g>
<g transform="translate(307.6,442.7) rotate(-90)"><text x="-0.5" y="0" font-size="28.5" textLength="63" lengthAdjust="spacingAndGlyphs">a (Å)</text></g>
<g transform="translate(1105.6,442.4) rotate(-90)"><text x="-0.5" y="0" font-size="28.5" textLength="63" lengthAdjust="spacingAndGlyphs">a (Å)</text></g>
<text style="font-family:'Liberation Serif',serif;font-weight:bold"><tspan x="13.4" y="36.6" font-size="37.5">(</tspan><tspan x="27.6" y="39.3" font-size="40.5">a</tspan><tspan x="47.6" y="36.6" font-size="37.5">)</tspan></text>
<text style="font-family:'Liberation Serif',serif;font-weight:bold"><tspan x="814.3" y="36.6" font-size="37.5">(</tspan><tspan x="826.9" y="39.3" font-size="41.5">b</tspan><tspan x="852.6" y="36.6" font-size="37.5">)</tspan></text>
</g>
</svg>
</body></html>
